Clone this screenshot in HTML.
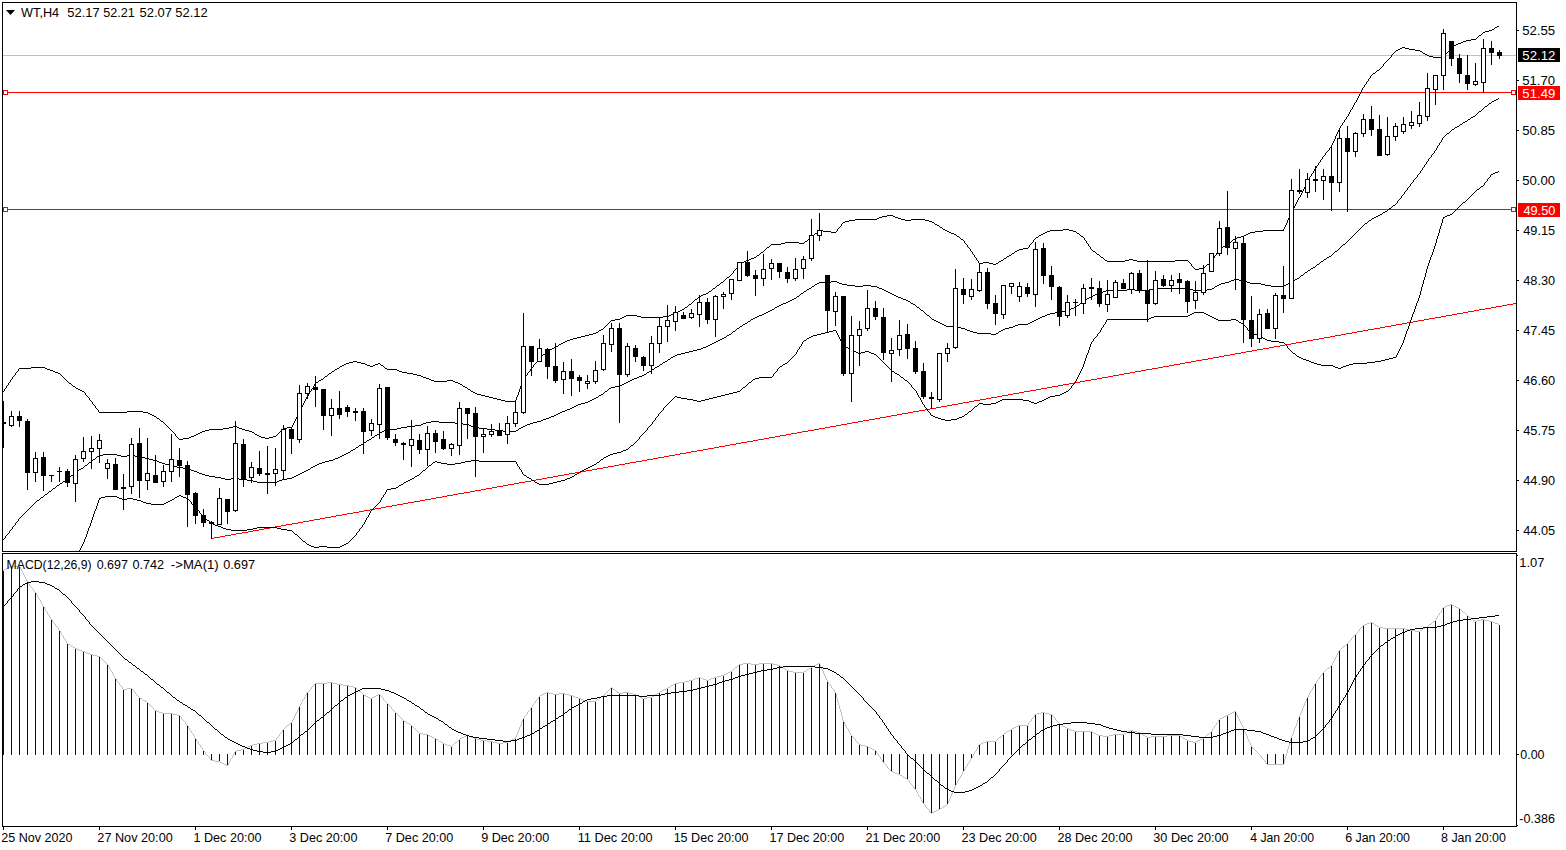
<!DOCTYPE html><html><head><meta charset="utf-8"><title>WT,H4</title><style>
html,body{margin:0;padding:0;background:#fff;width:1566px;height:850px;overflow:hidden}
svg{display:block}
text{font-family:"Liberation Sans",Arial,sans-serif;font-size:13px;fill:#000}
</style></head><body>
<svg width="1566" height="850" viewBox="0 0 1566 850" shape-rendering="crispEdges">
<defs><clipPath id="cm"><rect x="3" y="3" width="1513" height="548"/></clipPath>
<clipPath id="cs"><rect x="3" y="554" width="1513" height="272"/></clipPath></defs>
<rect x="0" y="0" width="1566" height="850" fill="#fff"/>
<rect x="3" y="55" width="1513" height="1" fill="#c0c0c0"/>
<rect x="3" y="92" width="1513" height="1" fill="#f00"/>
<rect x="3" y="209" width="1513" height="1" fill="#f00"/>
<path d="M1513 303h3v1h-3zM1507 304h6v1h-6zM1502 305h5v1h-5zM1496 306h6v1h-6zM1491 307h5v1h-5zM1485 308h6v1h-6zM1479 309h6v1h-6zM1474 310h5v1h-5zM1468 311h6v1h-6zM1463 312h5v1h-5zM1457 313h6v1h-6zM1452 314h5v1h-5zM1446 315h6v1h-6zM1441 316h5v1h-5zM1435 317h6v1h-6zM1429 318h6v1h-6zM1424 319h5v1h-5zM1418 320h6v1h-6zM1413 321h5v1h-5zM1407 322h6v1h-6zM1402 323h5v1h-5zM1396 324h6v1h-6zM1391 325h5v1h-5zM1385 326h6v1h-6zM1380 327h5v1h-5zM1374 328h6v1h-6zM1368 329h6v1h-6zM1363 330h5v1h-5zM1357 331h6v1h-6zM1352 332h5v1h-5zM1346 333h6v1h-6zM1341 334h5v1h-5zM1335 335h6v1h-6zM1330 336h5v1h-5zM1324 337h6v1h-6zM1319 338h5v1h-5zM1313 339h6v1h-6zM1307 340h6v1h-6zM1302 341h5v1h-5zM1296 342h6v1h-6zM1291 343h5v1h-5zM1285 344h6v1h-6zM1280 345h5v1h-5zM1274 346h6v1h-6zM1269 347h5v1h-5zM1263 348h6v1h-6zM1257 349h6v1h-6zM1252 350h5v1h-5zM1246 351h6v1h-6zM1241 352h5v1h-5zM1235 353h6v1h-6zM1230 354h5v1h-5zM1224 355h6v1h-6zM1219 356h5v1h-5zM1213 357h6v1h-6zM1208 358h5v1h-5zM1202 359h6v1h-6zM1196 360h6v1h-6zM1191 361h5v1h-5zM1185 362h6v1h-6zM1180 363h5v1h-5zM1174 364h6v1h-6zM1169 365h5v1h-5zM1163 366h6v1h-6zM1158 367h5v1h-5zM1152 368h6v1h-6zM1146 369h6v1h-6zM1141 370h5v1h-5zM1135 371h6v1h-6zM1130 372h5v1h-5zM1124 373h6v1h-6zM1119 374h5v1h-5zM1113 375h6v1h-6zM1108 376h5v1h-5zM1102 377h6v1h-6zM1097 378h5v1h-5zM1091 379h6v1h-6zM1085 380h6v1h-6zM1080 381h5v1h-5zM1074 382h6v1h-6zM1069 383h5v1h-5zM1063 384h6v1h-6zM1058 385h5v1h-5zM1052 386h6v1h-6zM1047 387h5v1h-5zM1041 388h6v1h-6zM1036 389h5v1h-5zM1030 390h6v1h-6zM1024 391h6v1h-6zM1019 392h5v1h-5zM1013 393h6v1h-6zM1008 394h5v1h-5zM1002 395h6v1h-6zM997 396h5v1h-5zM991 397h6v1h-6zM986 398h5v1h-5zM980 399h6v1h-6zM974 400h6v1h-6zM969 401h5v1h-5zM963 402h6v1h-6zM958 403h5v1h-5zM952 404h6v1h-6zM947 405h5v1h-5zM941 406h6v1h-6zM936 407h5v1h-5zM930 408h6v1h-6zM925 409h5v1h-5zM919 410h6v1h-6zM913 411h6v1h-6zM908 412h5v1h-5zM902 413h6v1h-6zM897 414h5v1h-5zM891 415h6v1h-6zM886 416h5v1h-5zM880 417h6v1h-6zM875 418h5v1h-5zM869 419h6v1h-6zM863 420h6v1h-6zM858 421h5v1h-5zM852 422h6v1h-6zM847 423h5v1h-5zM841 424h6v1h-6zM836 425h5v1h-5zM830 426h6v1h-6zM825 427h5v1h-5zM819 428h6v1h-6zM814 429h5v1h-5zM808 430h6v1h-6zM802 431h6v1h-6zM797 432h5v1h-5zM791 433h6v1h-6zM786 434h5v1h-5zM780 435h6v1h-6zM775 436h5v1h-5zM769 437h6v1h-6zM764 438h5v1h-5zM758 439h6v1h-6zM753 440h5v1h-5zM747 441h6v1h-6zM741 442h6v1h-6zM736 443h5v1h-5zM730 444h6v1h-6zM725 445h5v1h-5zM719 446h6v1h-6zM714 447h5v1h-5zM708 448h6v1h-6zM703 449h5v1h-5zM697 450h6v1h-6zM691 451h6v1h-6zM686 452h5v1h-5zM680 453h6v1h-6zM675 454h5v1h-5zM669 455h6v1h-6zM664 456h5v1h-5zM658 457h6v1h-6zM653 458h5v1h-5zM647 459h6v1h-6zM642 460h5v1h-5zM636 461h6v1h-6zM630 462h6v1h-6zM625 463h5v1h-5zM619 464h6v1h-6zM614 465h5v1h-5zM608 466h6v1h-6zM603 467h5v1h-5zM597 468h6v1h-6zM592 469h5v1h-5zM586 470h6v1h-6zM581 471h5v1h-5zM575 472h6v1h-6zM569 473h6v1h-6zM564 474h5v1h-5zM558 475h6v1h-6zM553 476h5v1h-5zM547 477h6v1h-6zM542 478h5v1h-5zM536 479h6v1h-6zM531 480h5v1h-5zM525 481h6v1h-6zM519 482h6v1h-6zM514 483h5v1h-5zM508 484h6v1h-6zM503 485h5v1h-5zM497 486h6v1h-6zM492 487h5v1h-5zM486 488h6v1h-6zM481 489h5v1h-5zM475 490h6v1h-6zM470 491h5v1h-5zM464 492h6v1h-6zM458 493h6v1h-6zM453 494h5v1h-5zM447 495h6v1h-6zM442 496h5v1h-5zM436 497h6v1h-6zM431 498h5v1h-5zM425 499h6v1h-6zM420 500h5v1h-5zM414 501h6v1h-6zM408 502h6v1h-6zM403 503h5v1h-5zM397 504h6v1h-6zM392 505h5v1h-5zM386 506h6v1h-6zM381 507h5v1h-5zM375 508h6v1h-6zM370 509h5v1h-5zM364 510h6v1h-6zM359 511h5v1h-5zM353 512h6v1h-6zM347 513h6v1h-6zM342 514h5v1h-5zM336 515h6v1h-6zM331 516h5v1h-5zM325 517h6v1h-6zM320 518h5v1h-5zM314 519h6v1h-6zM309 520h5v1h-5zM303 521h6v1h-6zM298 522h5v1h-5zM292 523h6v1h-6zM286 524h6v1h-6zM281 525h5v1h-5zM275 526h6v1h-6zM270 527h5v1h-5zM264 528h6v1h-6zM259 529h5v1h-5zM253 530h6v1h-6zM248 531h5v1h-5zM242 532h6v1h-6zM236 533h6v1h-6zM231 534h5v1h-5zM225 535h6v1h-6zM220 536h5v1h-5zM214 537h6v1h-6zM211 538h3v1h-3z" fill="#f00"/>
<path d="M1497 26h2v1h-2zM1495 27h2v1h-2zM1494 28h1v1h-1zM1492 29h2v1h-2zM1489 30h3v1h-3zM1485 31h4v1h-4zM1483 32h2v1h-2zM1482 33h1v1h-1zM1481 34h1v1h-1zM1479 35h2v1h-2zM1478 36h1v1h-1zM1477 37h1v1h-1zM1476 38h1v1h-1zM1471 39h5v1h-5zM1466 40h5v1h-5zM1463 41h3v1h-3zM1461 42h2v1h-2zM1458 43h3v1h-3zM1456 44h2v1h-2zM1454 45h2v1h-2zM1452 46h2v1h-2zM1402 47h3v1h-3zM1451 47h1v1h-1zM1400 48h2v1h-2zM1405 48h4v1h-4zM1450 48h1v1h-1zM1398 49h2v1h-2zM1409 49h6v1h-6zM1449 49h1v1h-1zM1396 50h2v1h-2zM1415 50h5v1h-5zM1449 50h1v1h-1zM1395 51h1v1h-1zM1420 51h2v1h-2zM1448 51h1v1h-1zM1394 52h1v1h-1zM1422 52h1v1h-1zM1447 52h1v1h-1zM1393 53h1v1h-1zM1423 53h2v1h-2zM1446 53h1v1h-1zM1392 54h1v1h-1zM1425 54h2v1h-2zM1445 54h1v1h-1zM1391 55h1v1h-1zM1427 55h2v1h-2zM1445 55h1v1h-1zM1391 56h1v1h-1zM1429 56h4v1h-4zM1444 56h1v1h-1zM1390 57h1v1h-1zM1433 57h11v1h-11zM1389 58h1v1h-1zM1388 59h1v1h-1zM1387 60h1v1h-1zM1386 61h1v1h-1zM1385 62h1v1h-1zM1384 63h1v1h-1zM1383 64h1v1h-1zM1383 65h1v1h-1zM1382 66h1v1h-1zM1381 67h1v1h-1zM1380 68h1v1h-1zM1379 69h1v1h-1zM1377 70h2v1h-2zM1376 71h1v1h-1zM1375 72h1v1h-1zM1373 73h2v1h-2zM1372 74h1v1h-1zM1371 75h1v1h-1zM1370 76h1v1h-1zM1370 77h1v1h-1zM1369 78h1v1h-1zM1368 79h1v1h-1zM1368 80h1v1h-1zM1367 81h1v1h-1zM1366 82h1v1h-1zM1366 83h1v1h-1zM1365 84h1v1h-1zM1364 85h1v1h-1zM1364 86h1v1h-1zM1363 87h1v1h-1zM1362 88h1v1h-1zM1362 89h1v1h-1zM1361 90h1v1h-1zM1361 91h1v1h-1zM1360 92h1v1h-1zM1360 93h1v1h-1zM1359 94h1v1h-1zM1359 95h1v1h-1zM1358 96h1v1h-1zM1358 97h1v1h-1zM1357 98h1v1h-1zM1357 99h1v1h-1zM1356 100h1v1h-1zM1356 101h1v1h-1zM1355 102h1v1h-1zM1354 103h1v1h-1zM1354 104h1v1h-1zM1353 105h1v1h-1zM1353 106h1v1h-1zM1352 107h1v1h-1zM1352 108h1v1h-1zM1351 109h1v1h-1zM1350 110h1v1h-1zM1350 111h1v1h-1zM1349 112h1v1h-1zM1349 113h1v1h-1zM1348 114h1v1h-1zM1348 115h1v1h-1zM1347 116h1v1h-1zM1346 117h1v1h-1zM1346 118h1v1h-1zM1345 119h1v1h-1zM1344 120h1v1h-1zM1344 121h1v1h-1zM1343 122h1v1h-1zM1342 123h1v1h-1zM1342 124h1v1h-1zM1341 125h1v1h-1zM1340 126h1v1h-1zM1340 127h1v1h-1zM1339 128h1v1h-1zM1339 129h1v1h-1zM1338 130h1v1h-1zM1338 131h1v1h-1zM1337 132h1v1h-1zM1337 133h1v1h-1zM1336 134h1v1h-1zM1336 135h1v1h-1zM1335 136h1v1h-1zM1335 137h1v1h-1zM1335 138h1v1h-1zM1334 139h1v1h-1zM1334 140h1v1h-1zM1333 141h1v1h-1zM1333 142h1v1h-1zM1332 143h1v1h-1zM1332 144h1v1h-1zM1331 145h1v1h-1zM1331 146h1v1h-1zM1330 147h1v1h-1zM1329 148h1v1h-1zM1329 149h1v1h-1zM1328 150h1v1h-1zM1327 151h1v1h-1zM1326 152h1v1h-1zM1325 153h1v1h-1zM1325 154h1v1h-1zM1324 155h1v1h-1zM1323 156h1v1h-1zM1322 157h1v1h-1zM1322 158h1v1h-1zM1321 159h1v1h-1zM1320 160h1v1h-1zM1320 161h1v1h-1zM1319 162h1v1h-1zM1318 163h1v1h-1zM1318 164h1v1h-1zM1317 165h1v1h-1zM1316 166h1v1h-1zM1316 167h1v1h-1zM1315 168h1v1h-1zM1314 169h1v1h-1zM1314 170h1v1h-1zM1313 171h1v1h-1zM1313 172h1v1h-1zM1312 173h1v1h-1zM1311 174h1v1h-1zM1311 175h1v1h-1zM1310 176h1v1h-1zM1309 177h1v1h-1zM1309 178h1v1h-1zM1308 179h1v1h-1zM1308 180h1v1h-1zM1307 181h1v1h-1zM1307 182h1v1h-1zM1306 183h1v1h-1zM1306 184h1v1h-1zM1305 185h1v1h-1zM1305 186h1v1h-1zM1304 187h1v1h-1zM1304 188h1v1h-1zM1303 189h1v1h-1zM1303 190h1v1h-1zM1302 191h1v1h-1zM1302 192h1v1h-1zM1301 193h1v1h-1zM1301 194h1v1h-1zM1300 195h1v1h-1zM1300 196h1v1h-1zM1299 197h1v1h-1zM1298 198h1v1h-1zM1298 199h1v1h-1zM1297 200h1v1h-1zM1297 201h1v1h-1zM1296 202h1v1h-1zM1296 203h1v1h-1zM1295 204h1v1h-1zM1295 205h1v1h-1zM1294 206h1v1h-1zM1294 207h1v1h-1zM1293 208h1v1h-1zM1293 209h1v1h-1zM1292 210h1v1h-1zM1292 211h1v1h-1zM1291 212h1v1h-1zM1291 213h1v1h-1zM1290 214h1v1h-1zM887 215h6v1h-6zM1290 215h1v1h-1zM882 216h5v1h-5zM893 216h2v1h-2zM1289 216h1v1h-1zM879 217h3v1h-3zM895 217h3v1h-3zM1289 217h1v1h-1zM877 218h2v1h-2zM898 218h3v1h-3zM1288 218h1v1h-1zM855 219h22v1h-22zM901 219h4v1h-4zM911 219h14v1h-14zM1288 219h1v1h-1zM849 220h6v1h-6zM905 220h6v1h-6zM925 220h4v1h-4zM1287 220h1v1h-1zM845 221h4v1h-4zM929 221h3v1h-3zM1287 221h1v1h-1zM843 222h2v1h-2zM932 222h2v1h-2zM1287 222h1v1h-1zM842 223h1v1h-1zM934 223h1v1h-1zM1286 223h1v1h-1zM841 224h1v1h-1zM935 224h2v1h-2zM1286 224h1v1h-1zM841 225h1v1h-1zM937 225h2v1h-2zM1285 225h1v1h-1zM840 226h1v1h-1zM939 226h1v1h-1zM1285 226h1v1h-1zM839 227h1v1h-1zM940 227h2v1h-2zM1284 227h1v1h-1zM838 228h1v1h-1zM942 228h1v1h-1zM1284 228h1v1h-1zM837 229h1v1h-1zM943 229h2v1h-2zM1063 229h6v1h-6zM1283 229h1v1h-1zM819 230h4v1h-4zM837 230h1v1h-1zM945 230h2v1h-2zM1050 230h13v1h-13zM1069 230h4v1h-4zM1263 230h21v1h-21zM818 231h1v1h-1zM823 231h8v1h-8zM836 231h1v1h-1zM947 231h2v1h-2zM1047 231h3v1h-3zM1073 231h3v1h-3zM1255 231h8v1h-8zM817 232h1v1h-1zM831 232h5v1h-5zM949 232h2v1h-2zM1045 232h2v1h-2zM1076 232h1v1h-1zM1250 232h5v1h-5zM815 233h2v1h-2zM951 233h3v1h-3zM1043 233h2v1h-2zM1077 233h2v1h-2zM1248 233h2v1h-2zM814 234h1v1h-1zM954 234h2v1h-2zM1041 234h2v1h-2zM1079 234h1v1h-1zM1246 234h2v1h-2zM813 235h1v1h-1zM956 235h1v1h-1zM1039 235h2v1h-2zM1080 235h1v1h-1zM1244 235h2v1h-2zM812 236h1v1h-1zM957 236h2v1h-2zM1038 236h1v1h-1zM1081 236h2v1h-2zM1241 236h3v1h-3zM811 237h1v1h-1zM959 237h1v1h-1zM1036 237h2v1h-2zM1083 237h1v1h-1zM1237 237h4v1h-4zM809 238h2v1h-2zM960 238h1v1h-1zM1035 238h1v1h-1zM1084 238h1v1h-1zM1235 238h2v1h-2zM808 239h1v1h-1zM961 239h2v1h-2zM1034 239h1v1h-1zM1084 239h1v1h-1zM1233 239h2v1h-2zM807 240h1v1h-1zM963 240h1v1h-1zM1033 240h1v1h-1zM1085 240h1v1h-1zM1232 240h1v1h-1zM805 241h2v1h-2zM964 241h1v1h-1zM1033 241h1v1h-1zM1086 241h1v1h-1zM1231 241h1v1h-1zM785 242h14v1h-14zM804 242h1v1h-1zM964 242h1v1h-1zM1032 242h1v1h-1zM1086 242h1v1h-1zM1229 242h2v1h-2zM781 243h4v1h-4zM799 243h5v1h-5zM965 243h1v1h-1zM1031 243h1v1h-1zM1087 243h1v1h-1zM1228 243h1v1h-1zM771 244h10v1h-10zM966 244h1v1h-1zM1030 244h1v1h-1zM1088 244h1v1h-1zM1227 244h1v1h-1zM770 245h1v1h-1zM967 245h1v1h-1zM1029 245h1v1h-1zM1088 245h1v1h-1zM1225 245h2v1h-2zM769 246h1v1h-1zM967 246h1v1h-1zM1029 246h1v1h-1zM1089 246h1v1h-1zM1223 246h2v1h-2zM767 247h2v1h-2zM968 247h1v1h-1zM1028 247h1v1h-1zM1090 247h1v1h-1zM1222 247h1v1h-1zM766 248h1v1h-1zM969 248h1v1h-1zM1023 248h5v1h-5zM1090 248h1v1h-1zM1220 248h2v1h-2zM765 249h1v1h-1zM970 249h1v1h-1zM1019 249h4v1h-4zM1091 249h1v1h-1zM1219 249h1v1h-1zM764 250h1v1h-1zM970 250h1v1h-1zM1017 250h2v1h-2zM1092 250h1v1h-1zM1218 250h1v1h-1zM763 251h1v1h-1zM971 251h1v1h-1zM1015 251h2v1h-2zM1093 251h2v1h-2zM1218 251h1v1h-1zM761 252h2v1h-2zM972 252h1v1h-1zM1014 252h1v1h-1zM1095 252h1v1h-1zM1217 252h1v1h-1zM760 253h1v1h-1zM972 253h1v1h-1zM1012 253h2v1h-2zM1096 253h1v1h-1zM1216 253h1v1h-1zM759 254h1v1h-1zM973 254h1v1h-1zM1011 254h1v1h-1zM1097 254h2v1h-2zM1216 254h1v1h-1zM757 255h2v1h-2zM974 255h1v1h-1zM1009 255h2v1h-2zM1099 255h1v1h-1zM1215 255h1v1h-1zM756 256h1v1h-1zM974 256h1v1h-1zM1007 256h2v1h-2zM1100 256h1v1h-1zM1214 256h1v1h-1zM754 257h2v1h-2zM975 257h1v1h-1zM1006 257h1v1h-1zM1101 257h2v1h-2zM1214 257h1v1h-1zM751 258h3v1h-3zM976 258h1v1h-1zM1004 258h2v1h-2zM1103 258h1v1h-1zM1213 258h1v1h-1zM749 259h2v1h-2zM976 259h1v1h-1zM1003 259h1v1h-1zM1104 259h1v1h-1zM1129 259h4v1h-4zM1212 259h1v1h-1zM746 260h3v1h-3zM977 260h1v1h-1zM1001 260h2v1h-2zM1105 260h2v1h-2zM1125 260h4v1h-4zM1133 260h4v1h-4zM1175 260h13v1h-13zM1212 260h1v1h-1zM744 261h2v1h-2zM978 261h1v1h-1zM999 261h2v1h-2zM1107 261h18v1h-18zM1137 261h38v1h-38zM1188 261h1v1h-1zM1211 261h1v1h-1zM742 262h2v1h-2zM978 262h1v1h-1zM983 262h6v1h-6zM998 262h1v1h-1zM1189 262h1v1h-1zM1210 262h1v1h-1zM740 263h2v1h-2zM979 263h4v1h-4zM989 263h4v1h-4zM996 263h2v1h-2zM1190 263h1v1h-1zM1209 263h1v1h-1zM739 264h1v1h-1zM993 264h3v1h-3zM1191 264h1v1h-1zM1207 264h2v1h-2zM738 265h1v1h-1zM1191 265h1v1h-1zM1206 265h1v1h-1zM737 266h1v1h-1zM1192 266h1v1h-1zM1205 266h1v1h-1zM737 267h1v1h-1zM1193 267h1v1h-1zM1204 267h1v1h-1zM736 268h1v1h-1zM1194 268h1v1h-1zM1199 268h5v1h-5zM735 269h1v1h-1zM1195 269h4v1h-4zM734 270h1v1h-1zM733 271h1v1h-1zM733 272h1v1h-1zM732 273h1v1h-1zM731 274h1v1h-1zM730 275h1v1h-1zM729 276h1v1h-1zM727 277h2v1h-2zM726 278h1v1h-1zM725 279h1v1h-1zM724 280h1v1h-1zM723 281h1v1h-1zM721 282h2v1h-2zM720 283h1v1h-1zM719 284h1v1h-1zM717 285h2v1h-2zM716 286h1v1h-1zM715 287h1v1h-1zM713 288h2v1h-2zM712 289h1v1h-1zM711 290h1v1h-1zM709 291h2v1h-2zM708 292h1v1h-1zM706 293h2v1h-2zM703 294h3v1h-3zM701 295h2v1h-2zM699 296h2v1h-2zM698 297h1v1h-1zM697 298h1v1h-1zM695 299h2v1h-2zM694 300h1v1h-1zM693 301h1v1h-1zM692 302h1v1h-1zM691 303h1v1h-1zM689 304h2v1h-2zM688 305h1v1h-1zM687 306h1v1h-1zM685 307h2v1h-2zM684 308h1v1h-1zM682 309h2v1h-2zM680 310h2v1h-2zM678 311h2v1h-2zM676 312h2v1h-2zM674 313h2v1h-2zM671 314h3v1h-3zM626 315h11v1h-11zM669 315h2v1h-2zM624 316h2v1h-2zM637 316h4v1h-4zM663 316h6v1h-6zM622 317h2v1h-2zM641 317h22v1h-22zM620 318h2v1h-2zM615 319h5v1h-5zM611 320h4v1h-4zM610 321h1v1h-1zM609 322h1v1h-1zM608 323h1v1h-1zM607 324h1v1h-1zM606 325h1v1h-1zM605 326h1v1h-1zM604 327h1v1h-1zM603 328h1v1h-1zM601 329h2v1h-2zM599 330h2v1h-2zM598 331h1v1h-1zM596 332h2v1h-2zM593 333h3v1h-3zM589 334h4v1h-4zM585 335h4v1h-4zM581 336h4v1h-4zM577 337h4v1h-4zM573 338h4v1h-4zM570 339h3v1h-3zM567 340h3v1h-3zM565 341h2v1h-2zM563 342h2v1h-2zM561 343h2v1h-2zM559 344h2v1h-2zM558 345h1v1h-1zM556 346h2v1h-2zM554 347h2v1h-2zM552 348h2v1h-2zM550 349h2v1h-2zM548 350h2v1h-2zM547 351h1v1h-1zM546 352h1v1h-1zM545 353h1v1h-1zM543 354h2v1h-2zM542 355h1v1h-1zM541 356h1v1h-1zM540 357h1v1h-1zM539 358h1v1h-1zM538 359h1v1h-1zM537 360h1v1h-1zM353 361h4v1h-4zM537 361h1v1h-1zM349 362h4v1h-4zM357 362h4v1h-4zM536 362h1v1h-1zM346 363h3v1h-3zM361 363h4v1h-4zM378 363h2v1h-2zM535 363h1v1h-1zM344 364h2v1h-2zM365 364h2v1h-2zM375 364h3v1h-3zM380 364h1v1h-1zM534 364h1v1h-1zM342 365h2v1h-2zM367 365h3v1h-3zM373 365h2v1h-2zM381 365h2v1h-2zM533 365h1v1h-1zM340 366h2v1h-2zM370 366h3v1h-3zM383 366h1v1h-1zM533 366h1v1h-1zM31 367h14v1h-14zM339 367h1v1h-1zM384 367h1v1h-1zM532 367h1v1h-1zM19 368h12v1h-12zM45 368h2v1h-2zM337 368h2v1h-2zM385 368h2v1h-2zM531 368h1v1h-1zM18 369h1v1h-1zM47 369h3v1h-3zM335 369h2v1h-2zM387 369h10v1h-10zM530 369h1v1h-1zM18 370h1v1h-1zM50 370h3v1h-3zM334 370h1v1h-1zM397 370h2v1h-2zM530 370h1v1h-1zM17 371h1v1h-1zM53 371h2v1h-2zM332 371h2v1h-2zM399 371h3v1h-3zM529 371h1v1h-1zM16 372h1v1h-1zM55 372h3v1h-3zM331 372h1v1h-1zM402 372h5v1h-5zM528 372h1v1h-1zM15 373h1v1h-1zM58 373h2v1h-2zM329 373h2v1h-2zM407 373h6v1h-6zM527 373h1v1h-1zM15 374h1v1h-1zM60 374h1v1h-1zM328 374h1v1h-1zM413 374h4v1h-4zM527 374h1v1h-1zM14 375h1v1h-1zM61 375h1v1h-1zM327 375h1v1h-1zM417 375h4v1h-4zM526 375h1v1h-1zM13 376h1v1h-1zM62 376h1v1h-1zM325 376h2v1h-2zM421 376h2v1h-2zM525 376h1v1h-1zM12 377h1v1h-1zM63 377h1v1h-1zM324 377h1v1h-1zM423 377h3v1h-3zM524 377h1v1h-1zM12 378h1v1h-1zM64 378h1v1h-1zM323 378h1v1h-1zM426 378h3v1h-3zM524 378h1v1h-1zM11 379h1v1h-1zM65 379h1v1h-1zM321 379h2v1h-2zM429 379h2v1h-2zM523 379h1v1h-1zM10 380h1v1h-1zM66 380h1v1h-1zM319 380h2v1h-2zM431 380h3v1h-3zM447 380h6v1h-6zM523 380h1v1h-1zM10 381h1v1h-1zM67 381h1v1h-1zM318 381h1v1h-1zM434 381h13v1h-13zM453 381h2v1h-2zM522 381h1v1h-1zM9 382h1v1h-1zM68 382h1v1h-1zM316 382h2v1h-2zM455 382h3v1h-3zM522 382h1v1h-1zM8 383h1v1h-1zM69 383h2v1h-2zM315 383h1v1h-1zM458 383h2v1h-2zM522 383h1v1h-1zM8 384h1v1h-1zM71 384h1v1h-1zM314 384h1v1h-1zM460 384h2v1h-2zM521 384h1v1h-1zM7 385h1v1h-1zM72 385h1v1h-1zM314 385h1v1h-1zM462 385h1v1h-1zM521 385h1v1h-1zM6 386h1v1h-1zM73 386h2v1h-2zM313 386h1v1h-1zM463 386h2v1h-2zM520 386h1v1h-1zM6 387h1v1h-1zM75 387h1v1h-1zM313 387h1v1h-1zM465 387h2v1h-2zM520 387h1v1h-1zM5 388h1v1h-1zM76 388h2v1h-2zM312 388h1v1h-1zM467 388h1v1h-1zM520 388h1v1h-1zM4 389h1v1h-1zM78 389h2v1h-2zM311 389h1v1h-1zM468 389h2v1h-2zM519 389h1v1h-1zM4 390h1v1h-1zM80 390h2v1h-2zM311 390h1v1h-1zM470 390h1v1h-1zM519 390h1v1h-1zM3 391h1v1h-1zM82 391h2v1h-2zM310 391h1v1h-1zM471 391h2v1h-2zM519 391h1v1h-1zM84 392h1v1h-1zM309 392h1v1h-1zM473 392h2v1h-2zM518 392h1v1h-1zM85 393h1v1h-1zM309 393h1v1h-1zM475 393h2v1h-2zM518 393h1v1h-1zM85 394h1v1h-1zM308 394h1v1h-1zM477 394h4v1h-4zM518 394h1v1h-1zM86 395h1v1h-1zM308 395h1v1h-1zM481 395h4v1h-4zM517 395h1v1h-1zM87 396h1v1h-1zM307 396h1v1h-1zM485 396h4v1h-4zM517 396h1v1h-1zM88 397h1v1h-1zM306 397h1v1h-1zM489 397h4v1h-4zM516 397h1v1h-1zM89 398h1v1h-1zM306 398h1v1h-1zM493 398h4v1h-4zM516 398h1v1h-1zM89 399h1v1h-1zM305 399h1v1h-1zM497 399h4v1h-4zM516 399h1v1h-1zM90 400h1v1h-1zM305 400h1v1h-1zM501 400h4v1h-4zM515 400h1v1h-1zM91 401h1v1h-1zM304 401h1v1h-1zM505 401h11v1h-11zM92 402h1v1h-1zM304 402h1v1h-1zM92 403h1v1h-1zM303 403h1v1h-1zM93 404h1v1h-1zM303 404h1v1h-1zM94 405h1v1h-1zM302 405h1v1h-1zM95 406h1v1h-1zM302 406h1v1h-1zM95 407h1v1h-1zM301 407h1v1h-1zM96 408h1v1h-1zM301 408h1v1h-1zM97 409h1v1h-1zM300 409h1v1h-1zM98 410h1v1h-1zM300 410h1v1h-1zM98 411h1v1h-1zM127 411h16v1h-16zM299 411h1v1h-1zM99 412h28v1h-28zM143 412h5v1h-5zM299 412h1v1h-1zM148 413h2v1h-2zM298 413h1v1h-1zM150 414h2v1h-2zM298 414h1v1h-1zM152 415h2v1h-2zM297 415h1v1h-1zM154 416h2v1h-2zM297 416h1v1h-1zM156 417h1v1h-1zM296 417h1v1h-1zM157 418h2v1h-2zM296 418h1v1h-1zM159 419h1v1h-1zM295 419h1v1h-1zM160 420h1v1h-1zM295 420h1v1h-1zM161 421h2v1h-2zM294 421h1v1h-1zM163 422h1v1h-1zM294 422h1v1h-1zM164 423h1v1h-1zM293 423h1v1h-1zM165 424h1v1h-1zM293 424h1v1h-1zM166 425h1v1h-1zM292 425h1v1h-1zM167 426h1v1h-1zM233 426h4v1h-4zM292 426h1v1h-1zM168 427h1v1h-1zM229 427h4v1h-4zM237 427h2v1h-2zM287 427h5v1h-5zM169 428h1v1h-1zM223 428h6v1h-6zM239 428h3v1h-3zM283 428h4v1h-4zM170 429h1v1h-1zM209 429h14v1h-14zM242 429h3v1h-3zM282 429h1v1h-1zM171 430h1v1h-1zM205 430h4v1h-4zM245 430h4v1h-4zM281 430h1v1h-1zM172 431h1v1h-1zM202 431h3v1h-3zM249 431h3v1h-3zM280 431h1v1h-1zM173 432h1v1h-1zM200 432h2v1h-2zM252 432h2v1h-2zM279 432h1v1h-1zM174 433h1v1h-1zM198 433h2v1h-2zM254 433h1v1h-1zM278 433h1v1h-1zM175 434h1v1h-1zM196 434h2v1h-2zM255 434h2v1h-2zM277 434h1v1h-1zM175 435h1v1h-1zM194 435h2v1h-2zM257 435h2v1h-2zM276 435h1v1h-1zM176 436h1v1h-1zM191 436h3v1h-3zM259 436h2v1h-2zM273 436h3v1h-3zM177 437h1v1h-1zM189 437h2v1h-2zM261 437h4v1h-4zM269 437h4v1h-4zM178 438h1v1h-1zM183 438h6v1h-6zM265 438h4v1h-4zM179 439h4v1h-4z" fill="#000"/>
<path d="M1498 98h1v1h-1zM1496 99h2v1h-2zM1494 100h2v1h-2zM1492 101h2v1h-2zM1491 102h1v1h-1zM1489 103h2v1h-2zM1488 104h1v1h-1zM1487 105h1v1h-1zM1485 106h2v1h-2zM1484 107h1v1h-1zM1483 108h1v1h-1zM1482 109h1v1h-1zM1481 110h1v1h-1zM1479 111h2v1h-2zM1478 112h1v1h-1zM1477 113h1v1h-1zM1476 114h1v1h-1zM1475 115h1v1h-1zM1473 116h2v1h-2zM1471 117h2v1h-2zM1470 118h1v1h-1zM1468 119h2v1h-2zM1467 120h1v1h-1zM1465 121h2v1h-2zM1463 122h2v1h-2zM1462 123h1v1h-1zM1460 124h2v1h-2zM1459 125h1v1h-1zM1457 126h2v1h-2zM1455 127h2v1h-2zM1454 128h1v1h-1zM1452 129h2v1h-2zM1451 130h1v1h-1zM1450 131h1v1h-1zM1449 132h1v1h-1zM1447 133h2v1h-2zM1446 134h1v1h-1zM1445 135h1v1h-1zM1444 136h1v1h-1zM1443 137h1v1h-1zM1442 138h1v1h-1zM1442 139h1v1h-1zM1441 140h1v1h-1zM1441 141h1v1h-1zM1440 142h1v1h-1zM1439 143h1v1h-1zM1439 144h1v1h-1zM1438 145h1v1h-1zM1437 146h1v1h-1zM1437 147h1v1h-1zM1436 148h1v1h-1zM1436 149h1v1h-1zM1435 150h1v1h-1zM1434 151h1v1h-1zM1434 152h1v1h-1zM1433 153h1v1h-1zM1432 154h1v1h-1zM1431 155h1v1h-1zM1431 156h1v1h-1zM1430 157h1v1h-1zM1429 158h1v1h-1zM1428 159h1v1h-1zM1428 160h1v1h-1zM1427 161h1v1h-1zM1426 162h1v1h-1zM1426 163h1v1h-1zM1425 164h1v1h-1zM1424 165h1v1h-1zM1424 166h1v1h-1zM1423 167h1v1h-1zM1422 168h1v1h-1zM1422 169h1v1h-1zM1421 170h1v1h-1zM1420 171h1v1h-1zM1420 172h1v1h-1zM1419 173h1v1h-1zM1418 174h1v1h-1zM1417 175h1v1h-1zM1417 176h1v1h-1zM1416 177h1v1h-1zM1415 178h1v1h-1zM1414 179h1v1h-1zM1413 180h1v1h-1zM1413 181h1v1h-1zM1412 182h1v1h-1zM1411 183h1v1h-1zM1410 184h1v1h-1zM1410 185h1v1h-1zM1409 186h1v1h-1zM1408 187h1v1h-1zM1407 188h1v1h-1zM1407 189h1v1h-1zM1406 190h1v1h-1zM1405 191h1v1h-1zM1404 192h1v1h-1zM1404 193h1v1h-1zM1403 194h1v1h-1zM1402 195h1v1h-1zM1401 196h1v1h-1zM1401 197h1v1h-1zM1400 198h1v1h-1zM1399 199h1v1h-1zM1398 200h1v1h-1zM1397 201h1v1h-1zM1397 202h1v1h-1zM1396 203h1v1h-1zM1395 204h1v1h-1zM1393 205h2v1h-2zM1392 206h1v1h-1zM1391 207h1v1h-1zM1389 208h2v1h-2zM1388 209h1v1h-1zM1387 210h1v1h-1zM1385 211h2v1h-2zM1383 212h2v1h-2zM1382 213h1v1h-1zM1380 214h2v1h-2zM1378 215h2v1h-2zM1376 216h2v1h-2zM1374 217h2v1h-2zM1372 218h2v1h-2zM1371 219h1v1h-1zM1369 220h2v1h-2zM1368 221h1v1h-1zM1367 222h1v1h-1zM1365 223h2v1h-2zM1364 224h1v1h-1zM1363 225h1v1h-1zM1362 226h1v1h-1zM1361 227h1v1h-1zM1360 228h1v1h-1zM1359 229h1v1h-1zM1358 230h1v1h-1zM1357 231h1v1h-1zM1356 232h1v1h-1zM1355 233h1v1h-1zM1354 234h1v1h-1zM1353 235h1v1h-1zM1352 236h1v1h-1zM1351 237h1v1h-1zM1350 238h1v1h-1zM1349 239h1v1h-1zM1348 240h1v1h-1zM1347 241h1v1h-1zM1346 242h1v1h-1zM1345 243h1v1h-1zM1343 244h2v1h-2zM1342 245h1v1h-1zM1341 246h1v1h-1zM1340 247h1v1h-1zM1339 248h1v1h-1zM1338 249h1v1h-1zM1337 250h1v1h-1zM1335 251h2v1h-2zM1334 252h1v1h-1zM1333 253h1v1h-1zM1332 254h1v1h-1zM1331 255h1v1h-1zM1329 256h2v1h-2zM1327 257h2v1h-2zM1326 258h1v1h-1zM1324 259h2v1h-2zM1323 260h1v1h-1zM1321 261h2v1h-2zM1320 262h1v1h-1zM1319 263h1v1h-1zM1317 264h2v1h-2zM1316 265h1v1h-1zM1315 266h1v1h-1zM1313 267h2v1h-2zM1311 268h2v1h-2zM1310 269h1v1h-1zM1308 270h2v1h-2zM1307 271h1v1h-1zM1305 272h2v1h-2zM1304 273h1v1h-1zM1303 274h1v1h-1zM1301 275h2v1h-2zM1300 276h1v1h-1zM1299 277h1v1h-1zM1297 278h2v1h-2zM1234 279h5v1h-5zM1295 279h2v1h-2zM1231 280h3v1h-3zM1239 280h6v1h-6zM1294 280h1v1h-1zM831 281h6v1h-6zM1229 281h2v1h-2zM1245 281h2v1h-2zM1292 281h2v1h-2zM819 282h12v1h-12zM837 282h2v1h-2zM1225 282h4v1h-4zM1247 282h3v1h-3zM1290 282h2v1h-2zM817 283h2v1h-2zM839 283h3v1h-3zM1221 283h4v1h-4zM1250 283h11v1h-11zM1288 283h2v1h-2zM815 284h2v1h-2zM842 284h5v1h-5zM1219 284h2v1h-2zM1261 284h4v1h-4zM1286 284h2v1h-2zM814 285h1v1h-1zM847 285h8v1h-8zM863 285h8v1h-8zM1217 285h2v1h-2zM1265 285h6v1h-6zM1284 285h2v1h-2zM812 286h2v1h-2zM855 286h8v1h-8zM871 286h6v1h-6zM1215 286h2v1h-2zM1271 286h13v1h-13zM811 287h1v1h-1zM877 287h2v1h-2zM1214 287h1v1h-1zM809 288h2v1h-2zM879 288h3v1h-3zM1153 288h36v1h-36zM1212 288h2v1h-2zM807 289h2v1h-2zM882 289h2v1h-2zM1127 289h8v1h-8zM1149 289h4v1h-4zM1189 289h4v1h-4zM1207 289h5v1h-5zM806 290h1v1h-1zM884 290h2v1h-2zM1106 290h21v1h-21zM1135 290h14v1h-14zM1193 290h14v1h-14zM804 291h2v1h-2zM886 291h2v1h-2zM1103 291h3v1h-3zM803 292h1v1h-1zM888 292h2v1h-2zM1101 292h2v1h-2zM801 293h2v1h-2zM890 293h2v1h-2zM1098 293h3v1h-3zM800 294h1v1h-1zM892 294h2v1h-2zM1095 294h3v1h-3zM799 295h1v1h-1zM894 295h2v1h-2zM1093 295h2v1h-2zM797 296h2v1h-2zM896 296h2v1h-2zM1091 296h2v1h-2zM796 297h1v1h-1zM898 297h3v1h-3zM1089 297h2v1h-2zM794 298h2v1h-2zM901 298h2v1h-2zM1087 298h2v1h-2zM792 299h2v1h-2zM903 299h3v1h-3zM1086 299h1v1h-1zM790 300h2v1h-2zM906 300h2v1h-2zM1084 300h2v1h-2zM788 301h2v1h-2zM908 301h2v1h-2zM1083 301h1v1h-1zM786 302h2v1h-2zM910 302h1v1h-1zM1081 302h2v1h-2zM783 303h3v1h-3zM911 303h2v1h-2zM1080 303h1v1h-1zM781 304h2v1h-2zM913 304h2v1h-2zM1079 304h1v1h-1zM779 305h2v1h-2zM915 305h1v1h-1zM1077 305h2v1h-2zM777 306h2v1h-2zM916 306h1v1h-1zM1076 306h1v1h-1zM775 307h2v1h-2zM917 307h2v1h-2zM1074 307h2v1h-2zM774 308h1v1h-1zM919 308h1v1h-1zM1071 308h3v1h-3zM772 309h2v1h-2zM920 309h1v1h-1zM1069 309h2v1h-2zM770 310h2v1h-2zM921 310h2v1h-2zM1065 310h4v1h-4zM768 311h2v1h-2zM923 311h1v1h-1zM1061 311h4v1h-4zM766 312h2v1h-2zM924 312h1v1h-1zM1055 312h6v1h-6zM764 313h2v1h-2zM925 313h1v1h-1zM1050 313h5v1h-5zM762 314h2v1h-2zM926 314h1v1h-1zM1047 314h3v1h-3zM759 315h3v1h-3zM927 315h2v1h-2zM1045 315h2v1h-2zM757 316h2v1h-2zM929 316h1v1h-1zM1042 316h3v1h-3zM755 317h2v1h-2zM930 317h1v1h-1zM1040 317h2v1h-2zM753 318h2v1h-2zM931 318h1v1h-1zM1038 318h2v1h-2zM751 319h2v1h-2zM932 319h2v1h-2zM1036 319h2v1h-2zM750 320h1v1h-1zM934 320h2v1h-2zM1034 320h2v1h-2zM748 321h2v1h-2zM936 321h2v1h-2zM1032 321h2v1h-2zM747 322h1v1h-1zM938 322h2v1h-2zM1030 322h2v1h-2zM745 323h2v1h-2zM940 323h2v1h-2zM1028 323h2v1h-2zM743 324h2v1h-2zM942 324h2v1h-2zM1018 324h10v1h-10zM742 325h1v1h-1zM944 325h2v1h-2zM1015 325h3v1h-3zM740 326h2v1h-2zM946 326h11v1h-11zM1013 326h2v1h-2zM739 327h1v1h-1zM957 327h4v1h-4zM1009 327h4v1h-4zM737 328h2v1h-2zM961 328h4v1h-4zM1005 328h4v1h-4zM736 329h1v1h-1zM965 329h2v1h-2zM1003 329h2v1h-2zM735 330h1v1h-1zM967 330h3v1h-3zM1001 330h2v1h-2zM733 331h2v1h-2zM970 331h3v1h-3zM999 331h2v1h-2zM732 332h1v1h-1zM973 332h4v1h-4zM998 332h1v1h-1zM731 333h1v1h-1zM977 333h14v1h-14zM996 333h2v1h-2zM729 334h2v1h-2zM991 334h5v1h-5zM727 335h2v1h-2zM726 336h1v1h-1zM724 337h2v1h-2zM722 338h2v1h-2zM720 339h2v1h-2zM718 340h2v1h-2zM716 341h2v1h-2zM714 342h2v1h-2zM712 343h2v1h-2zM710 344h2v1h-2zM708 345h2v1h-2zM706 346h2v1h-2zM703 347h3v1h-3zM701 348h2v1h-2zM697 349h4v1h-4zM693 350h4v1h-4zM689 351h4v1h-4zM685 352h4v1h-4zM681 353h4v1h-4zM677 354h4v1h-4zM675 355h2v1h-2zM673 356h2v1h-2zM671 357h2v1h-2zM670 358h1v1h-1zM668 359h2v1h-2zM667 360h1v1h-1zM665 361h2v1h-2zM663 362h2v1h-2zM662 363h1v1h-1zM660 364h2v1h-2zM659 365h1v1h-1zM657 366h2v1h-2zM655 367h2v1h-2zM654 368h1v1h-1zM652 369h2v1h-2zM651 370h1v1h-1zM649 371h2v1h-2zM647 372h2v1h-2zM646 373h1v1h-1zM644 374h2v1h-2zM642 375h2v1h-2zM639 376h3v1h-3zM637 377h2v1h-2zM634 378h3v1h-3zM632 379h2v1h-2zM630 380h2v1h-2zM628 381h2v1h-2zM626 382h2v1h-2zM624 383h2v1h-2zM622 384h2v1h-2zM620 385h2v1h-2zM615 386h5v1h-5zM611 387h4v1h-4zM609 388h2v1h-2zM608 389h1v1h-1zM607 390h1v1h-1zM605 391h2v1h-2zM604 392h1v1h-1zM603 393h1v1h-1zM601 394h2v1h-2zM599 395h2v1h-2zM598 396h1v1h-1zM596 397h2v1h-2zM594 398h2v1h-2zM592 399h2v1h-2zM590 400h2v1h-2zM588 401h2v1h-2zM585 402h3v1h-3zM581 403h4v1h-4zM578 404h3v1h-3zM576 405h2v1h-2zM574 406h2v1h-2zM572 407h2v1h-2zM570 408h2v1h-2zM567 409h3v1h-3zM565 410h2v1h-2zM562 411h3v1h-3zM560 412h2v1h-2zM558 413h2v1h-2zM556 414h2v1h-2zM554 415h2v1h-2zM551 416h3v1h-3zM549 417h2v1h-2zM546 418h3v1h-3zM543 419h3v1h-3zM541 420h2v1h-2zM431 421h8v1h-8zM537 421h4v1h-4zM426 422h5v1h-5zM439 422h16v1h-16zM533 422h4v1h-4zM423 423h3v1h-3zM455 423h8v1h-8zM530 423h3v1h-3zM421 424h2v1h-2zM463 424h6v1h-6zM527 424h3v1h-3zM415 425h6v1h-6zM469 425h2v1h-2zM525 425h2v1h-2zM407 426h8v1h-8zM471 426h3v1h-3zM523 426h2v1h-2zM401 427h6v1h-6zM474 427h5v1h-5zM521 427h2v1h-2zM397 428h4v1h-4zM479 428h8v1h-8zM519 428h2v1h-2zM386 429h11v1h-11zM487 429h8v1h-8zM518 429h1v1h-1zM384 430h2v1h-2zM495 430h8v1h-8zM516 430h2v1h-2zM382 431h2v1h-2zM503 431h13v1h-13zM380 432h2v1h-2zM379 433h1v1h-1zM377 434h2v1h-2zM375 435h2v1h-2zM374 436h1v1h-1zM372 437h2v1h-2zM371 438h1v1h-1zM369 439h2v1h-2zM367 440h2v1h-2zM366 441h1v1h-1zM364 442h2v1h-2zM363 443h1v1h-1zM361 444h2v1h-2zM359 445h2v1h-2zM358 446h1v1h-1zM356 447h2v1h-2zM355 448h1v1h-1zM353 449h2v1h-2zM351 450h2v1h-2zM350 451h1v1h-1zM348 452h2v1h-2zM346 453h2v1h-2zM103 454h14v1h-14zM344 454h2v1h-2zM99 455h4v1h-4zM117 455h4v1h-4zM127 455h8v1h-8zM342 455h2v1h-2zM97 456h2v1h-2zM121 456h6v1h-6zM135 456h6v1h-6zM340 456h2v1h-2zM96 457h1v1h-1zM141 457h4v1h-4zM338 457h2v1h-2zM95 458h1v1h-1zM145 458h4v1h-4zM335 458h3v1h-3zM93 459h2v1h-2zM149 459h4v1h-4zM333 459h2v1h-2zM92 460h1v1h-1zM153 460h4v1h-4zM329 460h4v1h-4zM91 461h1v1h-1zM157 461h2v1h-2zM325 461h4v1h-4zM89 462h2v1h-2zM159 462h3v1h-3zM322 462h3v1h-3zM88 463h1v1h-1zM162 463h3v1h-3zM319 463h3v1h-3zM87 464h1v1h-1zM165 464h4v1h-4zM317 464h2v1h-2zM85 465h2v1h-2zM169 465h4v1h-4zM315 465h2v1h-2zM84 466h1v1h-1zM173 466h4v1h-4zM313 466h2v1h-2zM83 467h1v1h-1zM177 467h6v1h-6zM311 467h2v1h-2zM81 468h2v1h-2zM183 468h6v1h-6zM310 468h1v1h-1zM79 469h2v1h-2zM189 469h2v1h-2zM308 469h2v1h-2zM78 470h1v1h-1zM191 470h3v1h-3zM306 470h2v1h-2zM76 471h2v1h-2zM194 471h3v1h-3zM304 471h2v1h-2zM75 472h1v1h-1zM197 472h2v1h-2zM302 472h2v1h-2zM74 473h1v1h-1zM199 473h3v1h-3zM300 473h2v1h-2zM73 474h1v1h-1zM202 474h3v1h-3zM298 474h2v1h-2zM71 475h2v1h-2zM205 475h4v1h-4zM296 475h2v1h-2zM70 476h1v1h-1zM209 476h6v1h-6zM294 476h2v1h-2zM69 477h1v1h-1zM215 477h6v1h-6zM292 477h2v1h-2zM68 478h1v1h-1zM221 478h4v1h-4zM231 478h8v1h-8zM287 478h5v1h-5zM67 479h1v1h-1zM225 479h6v1h-6zM239 479h8v1h-8zM282 479h5v1h-5zM65 480h2v1h-2zM247 480h6v1h-6zM279 480h3v1h-3zM63 481h2v1h-2zM253 481h4v1h-4zM277 481h2v1h-2zM62 482h1v1h-1zM257 482h20v1h-20zM60 483h2v1h-2zM59 484h1v1h-1zM57 485h2v1h-2zM56 486h1v1h-1zM55 487h1v1h-1zM53 488h2v1h-2zM52 489h1v1h-1zM51 490h1v1h-1zM49 491h2v1h-2zM48 492h1v1h-1zM47 493h1v1h-1zM45 494h2v1h-2zM44 495h1v1h-1zM43 496h1v1h-1zM41 497h2v1h-2zM40 498h1v1h-1zM39 499h1v1h-1zM37 500h2v1h-2zM36 501h1v1h-1zM35 502h1v1h-1zM34 503h1v1h-1zM33 504h1v1h-1zM32 505h1v1h-1zM31 506h1v1h-1zM30 507h1v1h-1zM29 508h1v1h-1zM28 509h1v1h-1zM27 510h1v1h-1zM26 511h1v1h-1zM25 512h1v1h-1zM24 513h1v1h-1zM23 514h1v1h-1zM22 515h1v1h-1zM21 516h1v1h-1zM20 517h1v1h-1zM19 518h1v1h-1zM18 519h1v1h-1zM18 520h1v1h-1zM17 521h1v1h-1zM16 522h1v1h-1zM15 523h1v1h-1zM15 524h1v1h-1zM14 525h1v1h-1zM13 526h1v1h-1zM12 527h1v1h-1zM12 528h1v1h-1zM11 529h1v1h-1zM10 530h1v1h-1zM9 531h1v1h-1zM9 532h1v1h-1zM8 533h1v1h-1zM7 534h1v1h-1zM6 535h1v1h-1zM5 536h1v1h-1zM5 537h1v1h-1zM4 538h1v1h-1zM3 539h1v1h-1z" fill="#000"/>
<path d="M1498 171h1v1h-1zM1495 172h3v1h-3zM1493 173h2v1h-2zM1491 174h2v1h-2zM1490 175h1v1h-1zM1490 176h1v1h-1zM1489 177h1v1h-1zM1488 178h1v1h-1zM1487 179h1v1h-1zM1487 180h1v1h-1zM1486 181h1v1h-1zM1485 182h1v1h-1zM1484 183h1v1h-1zM1484 184h1v1h-1zM1483 185h1v1h-1zM1481 186h2v1h-2zM1480 187h1v1h-1zM1479 188h1v1h-1zM1477 189h2v1h-2zM1476 190h1v1h-1zM1475 191h1v1h-1zM1474 192h1v1h-1zM1473 193h1v1h-1zM1472 194h1v1h-1zM1471 195h1v1h-1zM1470 196h1v1h-1zM1469 197h1v1h-1zM1468 198h1v1h-1zM1467 199h1v1h-1zM1466 200h1v1h-1zM1465 201h1v1h-1zM1463 202h2v1h-2zM1462 203h1v1h-1zM1461 204h1v1h-1zM1460 205h1v1h-1zM1459 206h1v1h-1zM1458 207h1v1h-1zM1457 208h1v1h-1zM1456 209h1v1h-1zM1455 210h1v1h-1zM1454 211h1v1h-1zM1453 212h1v1h-1zM1452 213h1v1h-1zM1450 214h2v1h-2zM1447 215h3v1h-3zM1445 216h2v1h-2zM1443 217h2v1h-2zM1443 218h1v1h-1zM1442 219h1v1h-1zM1442 220h1v1h-1zM1442 221h1v1h-1zM1442 222h1v1h-1zM1441 223h1v1h-1zM1441 224h1v1h-1zM1441 225h1v1h-1zM1440 226h1v1h-1zM1440 227h1v1h-1zM1440 228h1v1h-1zM1439 229h1v1h-1zM1439 230h1v1h-1zM1439 231h1v1h-1zM1439 232h1v1h-1zM1438 233h1v1h-1zM1438 234h1v1h-1zM1438 235h1v1h-1zM1437 236h1v1h-1zM1437 237h1v1h-1zM1437 238h1v1h-1zM1436 239h1v1h-1zM1436 240h1v1h-1zM1436 241h1v1h-1zM1436 242h1v1h-1zM1435 243h1v1h-1zM1435 244h1v1h-1zM1435 245h1v1h-1zM1434 246h1v1h-1zM1434 247h1v1h-1zM1434 248h1v1h-1zM1433 249h1v1h-1zM1433 250h1v1h-1zM1433 251h1v1h-1zM1432 252h1v1h-1zM1432 253h1v1h-1zM1432 254h1v1h-1zM1431 255h1v1h-1zM1431 256h1v1h-1zM1430 257h1v1h-1zM1430 258h1v1h-1zM1430 259h1v1h-1zM1429 260h1v1h-1zM1429 261h1v1h-1zM1429 262h1v1h-1zM1428 263h1v1h-1zM1428 264h1v1h-1zM1428 265h1v1h-1zM1427 266h1v1h-1zM1427 267h1v1h-1zM1427 268h1v1h-1zM1426 269h1v1h-1zM1426 270h1v1h-1zM1426 271h1v1h-1zM1426 272h1v1h-1zM1425 273h1v1h-1zM1425 274h1v1h-1zM1425 275h1v1h-1zM1425 276h1v1h-1zM1424 277h1v1h-1zM1424 278h1v1h-1zM1424 279h1v1h-1zM1423 280h1v1h-1zM1423 281h1v1h-1zM1423 282h1v1h-1zM1423 283h1v1h-1zM1422 284h1v1h-1zM1422 285h1v1h-1zM1422 286h1v1h-1zM1421 287h1v1h-1zM1421 288h1v1h-1zM1421 289h1v1h-1zM1421 290h1v1h-1zM1420 291h1v1h-1zM1420 292h1v1h-1zM1420 293h1v1h-1zM1420 294h1v1h-1zM1419 295h1v1h-1zM1419 296h1v1h-1zM1419 297h1v1h-1zM1418 298h1v1h-1zM1418 299h1v1h-1zM1418 300h1v1h-1zM1417 301h1v1h-1zM1417 302h1v1h-1zM1416 303h1v1h-1zM1416 304h1v1h-1zM1416 305h1v1h-1zM1415 306h1v1h-1zM1415 307h1v1h-1zM1415 308h1v1h-1zM1414 309h1v1h-1zM1414 310h1v1h-1zM1414 311h1v1h-1zM1194 312h10v1h-10zM1413 312h1v1h-1zM1192 313h2v1h-2zM1204 313h2v1h-2zM1413 313h1v1h-1zM1190 314h2v1h-2zM1206 314h2v1h-2zM1412 314h1v1h-1zM1188 315h2v1h-2zM1208 315h2v1h-2zM1412 315h1v1h-1zM1154 316h34v1h-34zM1210 316h2v1h-2zM1412 316h1v1h-1zM1151 317h3v1h-3zM1212 317h2v1h-2zM1411 317h1v1h-1zM1149 318h2v1h-2zM1214 318h2v1h-2zM1411 318h1v1h-1zM1107 319h42v1h-42zM1216 319h2v1h-2zM1231 319h5v1h-5zM1411 319h1v1h-1zM1106 320h1v1h-1zM1218 320h13v1h-13zM1236 320h2v1h-2zM1410 320h1v1h-1zM1106 321h1v1h-1zM1238 321h1v1h-1zM1410 321h1v1h-1zM1105 322h1v1h-1zM1239 322h2v1h-2zM1410 322h1v1h-1zM1105 323h1v1h-1zM1241 323h2v1h-2zM1409 323h1v1h-1zM1104 324h1v1h-1zM1243 324h1v1h-1zM1409 324h1v1h-1zM1103 325h1v1h-1zM1244 325h1v1h-1zM1409 325h1v1h-1zM1103 326h1v1h-1zM1245 326h1v1h-1zM1408 326h1v1h-1zM1102 327h1v1h-1zM1246 327h1v1h-1zM1408 327h1v1h-1zM1101 328h1v1h-1zM1247 328h1v1h-1zM1408 328h1v1h-1zM1101 329h1v1h-1zM1247 329h1v1h-1zM1407 329h1v1h-1zM833 330h3v1h-3zM1100 330h1v1h-1zM1248 330h1v1h-1zM1407 330h1v1h-1zM829 331h4v1h-4zM836 331h1v1h-1zM1100 331h1v1h-1zM1249 331h1v1h-1zM1406 331h1v1h-1zM825 332h4v1h-4zM836 332h1v1h-1zM1099 332h1v1h-1zM1250 332h1v1h-1zM1406 332h1v1h-1zM821 333h4v1h-4zM837 333h1v1h-1zM1098 333h1v1h-1zM1251 333h2v1h-2zM1406 333h1v1h-1zM817 334h4v1h-4zM837 334h1v1h-1zM1097 334h1v1h-1zM1253 334h4v1h-4zM1405 334h1v1h-1zM813 335h4v1h-4zM838 335h1v1h-1zM1097 335h1v1h-1zM1257 335h3v1h-3zM1405 335h1v1h-1zM811 336h2v1h-2zM838 336h1v1h-1zM1096 336h1v1h-1zM1260 336h2v1h-2zM1405 336h1v1h-1zM809 337h2v1h-2zM839 337h1v1h-1zM1095 337h1v1h-1zM1262 337h1v1h-1zM1404 337h1v1h-1zM807 338h2v1h-2zM839 338h1v1h-1zM1094 338h1v1h-1zM1263 338h2v1h-2zM1404 338h1v1h-1zM806 339h1v1h-1zM840 339h1v1h-1zM1093 339h1v1h-1zM1265 339h2v1h-2zM1404 339h1v1h-1zM804 340h2v1h-2zM840 340h1v1h-1zM1093 340h1v1h-1zM1267 340h4v1h-4zM1403 340h1v1h-1zM803 341h1v1h-1zM841 341h1v1h-1zM1092 341h1v1h-1zM1271 341h8v1h-8zM1403 341h1v1h-1zM802 342h1v1h-1zM841 342h1v1h-1zM1091 342h1v1h-1zM1279 342h5v1h-5zM1403 342h1v1h-1zM802 343h1v1h-1zM842 343h1v1h-1zM1091 343h1v1h-1zM1284 343h1v1h-1zM1402 343h1v1h-1zM801 344h1v1h-1zM842 344h1v1h-1zM1090 344h1v1h-1zM1285 344h1v1h-1zM1402 344h1v1h-1zM801 345h1v1h-1zM843 345h1v1h-1zM1090 345h1v1h-1zM1286 345h1v1h-1zM1401 345h1v1h-1zM800 346h1v1h-1zM844 346h2v1h-2zM1090 346h1v1h-1zM1287 346h1v1h-1zM1401 346h1v1h-1zM799 347h1v1h-1zM846 347h2v1h-2zM1089 347h1v1h-1zM1287 347h1v1h-1zM1400 347h1v1h-1zM799 348h1v1h-1zM848 348h2v1h-2zM1089 348h1v1h-1zM1288 348h1v1h-1zM1400 348h1v1h-1zM798 349h1v1h-1zM850 349h2v1h-2zM1089 349h1v1h-1zM1289 349h1v1h-1zM1399 349h1v1h-1zM797 350h1v1h-1zM852 350h2v1h-2zM1088 350h1v1h-1zM1290 350h1v1h-1zM1399 350h1v1h-1zM797 351h1v1h-1zM854 351h2v1h-2zM865 351h4v1h-4zM1088 351h1v1h-1zM1291 351h1v1h-1zM1398 351h1v1h-1zM796 352h1v1h-1zM856 352h2v1h-2zM861 352h4v1h-4zM869 352h2v1h-2zM1088 352h1v1h-1zM1292 352h1v1h-1zM1398 352h1v1h-1zM796 353h1v1h-1zM858 353h3v1h-3zM871 353h3v1h-3zM1087 353h1v1h-1zM1293 353h2v1h-2zM1397 353h1v1h-1zM795 354h1v1h-1zM874 354h2v1h-2zM1087 354h1v1h-1zM1295 354h1v1h-1zM1397 354h1v1h-1zM794 355h1v1h-1zM876 355h1v1h-1zM1086 355h1v1h-1zM1296 355h1v1h-1zM1396 355h1v1h-1zM793 356h1v1h-1zM877 356h1v1h-1zM1086 356h1v1h-1zM1297 356h2v1h-2zM1396 356h1v1h-1zM792 357h1v1h-1zM878 357h1v1h-1zM1086 357h1v1h-1zM1299 357h2v1h-2zM1393 357h3v1h-3zM791 358h1v1h-1zM879 358h1v1h-1zM1085 358h1v1h-1zM1301 358h2v1h-2zM1389 358h4v1h-4zM790 359h1v1h-1zM880 359h1v1h-1zM1085 359h1v1h-1zM1303 359h3v1h-3zM1385 359h4v1h-4zM789 360h1v1h-1zM881 360h1v1h-1zM1085 360h1v1h-1zM1306 360h3v1h-3zM1381 360h4v1h-4zM788 361h1v1h-1zM882 361h1v1h-1zM1084 361h1v1h-1zM1309 361h2v1h-2zM1375 361h6v1h-6zM787 362h1v1h-1zM883 362h1v1h-1zM1084 362h1v1h-1zM1311 362h3v1h-3zM1367 362h8v1h-8zM785 363h2v1h-2zM884 363h1v1h-1zM1084 363h1v1h-1zM1314 363h3v1h-3zM1353 363h14v1h-14zM783 364h2v1h-2zM885 364h1v1h-1zM1083 364h1v1h-1zM1317 364h4v1h-4zM1349 364h4v1h-4zM782 365h1v1h-1zM886 365h1v1h-1zM1083 365h1v1h-1zM1321 365h12v1h-12zM1346 365h3v1h-3zM780 366h2v1h-2zM887 366h1v1h-1zM1083 366h1v1h-1zM1333 366h2v1h-2zM1343 366h3v1h-3zM779 367h1v1h-1zM888 367h1v1h-1zM1082 367h1v1h-1zM1335 367h3v1h-3zM1341 367h2v1h-2zM778 368h1v1h-1zM889 368h1v1h-1zM1082 368h1v1h-1zM1338 368h3v1h-3zM777 369h1v1h-1zM890 369h1v1h-1zM1081 369h1v1h-1zM777 370h1v1h-1zM891 370h1v1h-1zM1081 370h1v1h-1zM776 371h1v1h-1zM892 371h2v1h-2zM1080 371h1v1h-1zM775 372h1v1h-1zM894 372h1v1h-1zM1080 372h1v1h-1zM774 373h1v1h-1zM895 373h2v1h-2zM1079 373h1v1h-1zM773 374h1v1h-1zM897 374h2v1h-2zM1079 374h1v1h-1zM773 375h1v1h-1zM899 375h1v1h-1zM1078 375h1v1h-1zM772 376h1v1h-1zM900 376h1v1h-1zM1078 376h1v1h-1zM759 377h13v1h-13zM901 377h2v1h-2zM1077 377h1v1h-1zM755 378h4v1h-4zM903 378h1v1h-1zM1077 378h1v1h-1zM753 379h2v1h-2zM904 379h1v1h-1zM1076 379h1v1h-1zM752 380h1v1h-1zM905 380h2v1h-2zM1076 380h1v1h-1zM751 381h1v1h-1zM907 381h1v1h-1zM1075 381h1v1h-1zM749 382h2v1h-2zM908 382h1v1h-1zM1075 382h1v1h-1zM748 383h1v1h-1zM909 383h1v1h-1zM1074 383h1v1h-1zM747 384h1v1h-1zM910 384h1v1h-1zM1073 384h1v1h-1zM746 385h1v1h-1zM911 385h1v1h-1zM1072 385h1v1h-1zM745 386h1v1h-1zM911 386h1v1h-1zM1071 386h1v1h-1zM743 387h2v1h-2zM912 387h1v1h-1zM1071 387h1v1h-1zM742 388h1v1h-1zM913 388h1v1h-1zM1070 388h1v1h-1zM741 389h1v1h-1zM914 389h1v1h-1zM1069 389h1v1h-1zM740 390h1v1h-1zM915 390h1v1h-1zM1068 390h1v1h-1zM737 391h3v1h-3zM916 391h1v1h-1zM1066 391h2v1h-2zM733 392h4v1h-4zM916 392h1v1h-1zM1064 392h2v1h-2zM729 393h4v1h-4zM917 393h1v1h-1zM1062 393h2v1h-2zM725 394h4v1h-4zM917 394h1v1h-1zM1060 394h2v1h-2zM721 395h4v1h-4zM918 395h1v1h-1zM1055 395h5v1h-5zM675 396h2v1h-2zM717 396h4v1h-4zM918 396h1v1h-1zM1050 396h5v1h-5zM674 397h1v1h-1zM677 397h4v1h-4zM713 397h4v1h-4zM919 397h1v1h-1zM1048 397h2v1h-2zM673 398h1v1h-1zM681 398h6v1h-6zM709 398h4v1h-4zM920 398h1v1h-1zM1046 398h2v1h-2zM672 399h1v1h-1zM687 399h6v1h-6zM705 399h4v1h-4zM920 399h1v1h-1zM1002 399h21v1h-21zM1044 399h2v1h-2zM671 400h1v1h-1zM693 400h4v1h-4zM701 400h4v1h-4zM921 400h1v1h-1zM1000 400h2v1h-2zM1023 400h6v1h-6zM1042 400h2v1h-2zM670 401h1v1h-1zM697 401h4v1h-4zM921 401h1v1h-1zM998 401h2v1h-2zM1029 401h2v1h-2zM1039 401h3v1h-3zM669 402h1v1h-1zM922 402h1v1h-1zM996 402h2v1h-2zM1031 402h3v1h-3zM1037 402h2v1h-2zM668 403h1v1h-1zM922 403h1v1h-1zM979 403h4v1h-4zM991 403h5v1h-5zM1034 403h3v1h-3zM667 404h1v1h-1zM923 404h1v1h-1zM978 404h1v1h-1zM983 404h8v1h-8zM666 405h1v1h-1zM924 405h1v1h-1zM977 405h1v1h-1zM665 406h1v1h-1zM924 406h1v1h-1zM975 406h2v1h-2zM664 407h1v1h-1zM925 407h1v1h-1zM974 407h1v1h-1zM663 408h1v1h-1zM926 408h1v1h-1zM973 408h1v1h-1zM663 409h1v1h-1zM927 409h1v1h-1zM972 409h1v1h-1zM662 410h1v1h-1zM927 410h1v1h-1zM971 410h1v1h-1zM661 411h1v1h-1zM928 411h1v1h-1zM969 411h2v1h-2zM660 412h1v1h-1zM929 412h1v1h-1zM968 412h1v1h-1zM659 413h1v1h-1zM930 413h1v1h-1zM967 413h1v1h-1zM658 414h1v1h-1zM930 414h1v1h-1zM965 414h2v1h-2zM658 415h1v1h-1zM931 415h2v1h-2zM964 415h1v1h-1zM657 416h1v1h-1zM933 416h2v1h-2zM962 416h2v1h-2zM656 417h1v1h-1zM935 417h3v1h-3zM959 417h3v1h-3zM655 418h1v1h-1zM938 418h3v1h-3zM957 418h2v1h-2zM655 419h1v1h-1zM941 419h4v1h-4zM951 419h6v1h-6zM654 420h1v1h-1zM945 420h6v1h-6zM653 421h1v1h-1zM652 422h1v1h-1zM652 423h1v1h-1zM651 424h1v1h-1zM650 425h1v1h-1zM649 426h1v1h-1zM648 427h1v1h-1zM647 428h1v1h-1zM647 429h1v1h-1zM646 430h1v1h-1zM645 431h1v1h-1zM644 432h1v1h-1zM643 433h1v1h-1zM642 434h1v1h-1zM641 435h1v1h-1zM640 436h1v1h-1zM639 437h1v1h-1zM639 438h1v1h-1zM638 439h1v1h-1zM637 440h1v1h-1zM636 441h1v1h-1zM635 442h1v1h-1zM634 443h1v1h-1zM633 444h1v1h-1zM631 445h2v1h-2zM630 446h1v1h-1zM629 447h1v1h-1zM628 448h1v1h-1zM626 449h2v1h-2zM623 450h3v1h-3zM621 451h2v1h-2zM617 452h4v1h-4zM613 453h4v1h-4zM610 454h3v1h-3zM608 455h2v1h-2zM606 456h2v1h-2zM604 457h2v1h-2zM603 458h1v1h-1zM601 459h2v1h-2zM471 460h8v1h-8zM600 460h1v1h-1zM435 461h2v1h-2zM465 461h6v1h-6zM479 461h37v1h-37zM599 461h1v1h-1zM433 462h2v1h-2zM437 462h4v1h-4zM461 462h4v1h-4zM516 462h1v1h-1zM597 462h2v1h-2zM432 463h1v1h-1zM441 463h6v1h-6zM455 463h6v1h-6zM516 463h1v1h-1zM596 463h1v1h-1zM431 464h1v1h-1zM447 464h8v1h-8zM517 464h1v1h-1zM594 464h2v1h-2zM429 465h2v1h-2zM517 465h1v1h-1zM592 465h2v1h-2zM428 466h1v1h-1zM518 466h1v1h-1zM590 466h2v1h-2zM427 467h1v1h-1zM519 467h1v1h-1zM588 467h2v1h-2zM426 468h1v1h-1zM519 468h1v1h-1zM586 468h2v1h-2zM425 469h1v1h-1zM520 469h1v1h-1zM584 469h2v1h-2zM423 470h2v1h-2zM521 470h1v1h-1zM582 470h2v1h-2zM422 471h1v1h-1zM521 471h1v1h-1zM580 471h2v1h-2zM421 472h1v1h-1zM522 472h1v1h-1zM579 472h1v1h-1zM420 473h1v1h-1zM522 473h1v1h-1zM577 473h2v1h-2zM419 474h1v1h-1zM523 474h1v1h-1zM575 474h2v1h-2zM417 475h2v1h-2zM524 475h2v1h-2zM574 475h1v1h-1zM415 476h2v1h-2zM526 476h1v1h-1zM572 476h2v1h-2zM414 477h1v1h-1zM527 477h2v1h-2zM570 477h2v1h-2zM412 478h2v1h-2zM529 478h2v1h-2zM567 478h3v1h-3zM410 479h2v1h-2zM531 479h1v1h-1zM565 479h2v1h-2zM408 480h2v1h-2zM532 480h2v1h-2zM561 480h4v1h-4zM406 481h2v1h-2zM534 481h1v1h-1zM557 481h4v1h-4zM404 482h2v1h-2zM535 482h2v1h-2zM553 482h4v1h-4zM403 483h1v1h-1zM537 483h2v1h-2zM549 483h4v1h-4zM401 484h2v1h-2zM539 484h10v1h-10zM399 485h2v1h-2zM398 486h1v1h-1zM396 487h2v1h-2zM391 488h5v1h-5zM387 489h4v1h-4zM386 490h1v1h-1zM386 491h1v1h-1zM385 492h1v1h-1zM385 493h1v1h-1zM384 494h1v1h-1zM179 495h2v1h-2zM383 495h1v1h-1zM105 496h12v1h-12zM177 496h2v1h-2zM181 496h2v1h-2zM383 496h1v1h-1zM101 497h4v1h-4zM117 497h2v1h-2zM175 497h2v1h-2zM183 497h3v1h-3zM382 497h1v1h-1zM99 498h2v1h-2zM119 498h3v1h-3zM127 498h6v1h-6zM174 498h1v1h-1zM186 498h2v1h-2zM381 498h1v1h-1zM99 499h1v1h-1zM122 499h5v1h-5zM133 499h4v1h-4zM172 499h2v1h-2zM188 499h1v1h-1zM381 499h1v1h-1zM98 500h1v1h-1zM137 500h4v1h-4zM170 500h2v1h-2zM189 500h1v1h-1zM380 500h1v1h-1zM98 501h1v1h-1zM141 501h2v1h-2zM168 501h2v1h-2zM190 501h1v1h-1zM380 501h1v1h-1zM98 502h1v1h-1zM143 502h3v1h-3zM166 502h2v1h-2zM191 502h1v1h-1zM379 502h1v1h-1zM97 503h1v1h-1zM146 503h5v1h-5zM164 503h2v1h-2zM191 503h1v1h-1zM378 503h1v1h-1zM97 504h1v1h-1zM151 504h13v1h-13zM192 504h1v1h-1zM377 504h1v1h-1zM97 505h1v1h-1zM193 505h1v1h-1zM376 505h1v1h-1zM96 506h1v1h-1zM194 506h1v1h-1zM375 506h1v1h-1zM96 507h1v1h-1zM195 507h1v1h-1zM374 507h1v1h-1zM96 508h1v1h-1zM196 508h1v1h-1zM373 508h1v1h-1zM95 509h1v1h-1zM197 509h1v1h-1zM372 509h1v1h-1zM95 510h1v1h-1zM198 510h1v1h-1zM371 510h1v1h-1zM94 511h1v1h-1zM199 511h1v1h-1zM370 511h1v1h-1zM94 512h1v1h-1zM199 512h1v1h-1zM370 512h1v1h-1zM94 513h1v1h-1zM200 513h1v1h-1zM369 513h1v1h-1zM93 514h1v1h-1zM201 514h1v1h-1zM369 514h1v1h-1zM93 515h1v1h-1zM202 515h1v1h-1zM368 515h1v1h-1zM93 516h1v1h-1zM203 516h1v1h-1zM368 516h1v1h-1zM92 517h1v1h-1zM204 517h1v1h-1zM367 517h1v1h-1zM92 518h1v1h-1zM205 518h1v1h-1zM366 518h1v1h-1zM92 519h1v1h-1zM206 519h1v1h-1zM366 519h1v1h-1zM91 520h1v1h-1zM207 520h2v1h-2zM365 520h1v1h-1zM91 521h1v1h-1zM209 521h1v1h-1zM365 521h1v1h-1zM91 522h1v1h-1zM210 522h1v1h-1zM364 522h1v1h-1zM90 523h1v1h-1zM211 523h2v1h-2zM364 523h1v1h-1zM90 524h1v1h-1zM213 524h2v1h-2zM363 524h1v1h-1zM90 525h1v1h-1zM215 525h3v1h-3zM362 525h1v1h-1zM89 526h1v1h-1zM218 526h3v1h-3zM362 526h1v1h-1zM89 527h1v1h-1zM221 527h2v1h-2zM257 527h20v1h-20zM361 527h1v1h-1zM88 528h1v1h-1zM223 528h3v1h-3zM253 528h4v1h-4zM277 528h4v1h-4zM360 528h1v1h-1zM88 529h1v1h-1zM226 529h5v1h-5zM247 529h6v1h-6zM281 529h6v1h-6zM359 529h1v1h-1zM88 530h1v1h-1zM231 530h16v1h-16zM287 530h5v1h-5zM359 530h1v1h-1zM87 531h1v1h-1zM292 531h1v1h-1zM358 531h1v1h-1zM87 532h1v1h-1zM293 532h1v1h-1zM357 532h1v1h-1zM87 533h1v1h-1zM294 533h1v1h-1zM356 533h1v1h-1zM86 534h1v1h-1zM295 534h2v1h-2zM356 534h1v1h-1zM86 535h1v1h-1zM297 535h1v1h-1zM355 535h1v1h-1zM86 536h1v1h-1zM298 536h1v1h-1zM354 536h1v1h-1zM85 537h1v1h-1zM299 537h1v1h-1zM353 537h1v1h-1zM85 538h1v1h-1zM300 538h1v1h-1zM352 538h1v1h-1zM84 539h1v1h-1zM301 539h1v1h-1zM351 539h1v1h-1zM84 540h1v1h-1zM302 540h1v1h-1zM350 540h1v1h-1zM84 541h1v1h-1zM303 541h2v1h-2zM349 541h1v1h-1zM83 542h1v1h-1zM305 542h1v1h-1zM348 542h1v1h-1zM83 543h1v1h-1zM306 543h1v1h-1zM346 543h2v1h-2zM82 544h1v1h-1zM307 544h2v1h-2zM344 544h2v1h-2zM82 545h1v1h-1zM309 545h2v1h-2zM342 545h2v1h-2zM81 546h1v1h-1zM311 546h3v1h-3zM319 546h8v1h-8zM340 546h2v1h-2zM81 547h1v1h-1zM314 547h5v1h-5zM327 547h13v1h-13zM80 548h1v1h-1zM80 549h1v1h-1zM79 550h1v1h-1z" fill="#000"/>
<g clip-path="url(#cm)">
<rect x="3" y="401" width="1" height="47"/>
<rect x="1" y="422" width="5" height="2"/>
<rect x="11" y="411" width="1" height="16"/>
<rect x="9" y="416" width="5" height="10"/>
<rect x="10" y="417" width="3" height="8" fill="#fff"/>
<rect x="19" y="411" width="1" height="16"/>
<rect x="17" y="416" width="5" height="5"/>
<rect x="27" y="419" width="1" height="71"/>
<rect x="25" y="421" width="5" height="52"/>
<rect x="35" y="452" width="1" height="30"/>
<rect x="33" y="458" width="5" height="15"/>
<rect x="34" y="459" width="3" height="13" fill="#fff"/>
<rect x="43" y="452" width="1" height="39"/>
<rect x="41" y="457" width="5" height="19"/>
<rect x="51" y="475" width="1" height="7"/>
<rect x="49" y="475" width="5" height="1"/>
<rect x="59" y="467" width="1" height="15"/>
<rect x="57" y="471" width="5" height="1"/>
<rect x="67" y="469" width="1" height="18"/>
<rect x="65" y="471" width="5" height="12"/>
<rect x="75" y="455" width="1" height="47"/>
<rect x="73" y="459" width="5" height="25"/>
<rect x="74" y="460" width="3" height="23" fill="#fff"/>
<rect x="83" y="437" width="1" height="25"/>
<rect x="81" y="451" width="5" height="8"/>
<rect x="82" y="452" width="3" height="6" fill="#fff"/>
<rect x="91" y="436" width="1" height="33"/>
<rect x="89" y="448" width="5" height="4"/>
<rect x="90" y="449" width="3" height="2" fill="#fff"/>
<rect x="99" y="434" width="1" height="29"/>
<rect x="97" y="440" width="5" height="9"/>
<rect x="98" y="441" width="3" height="7" fill="#fff"/>
<rect x="107" y="459" width="1" height="20"/>
<rect x="105" y="463" width="5" height="6"/>
<rect x="106" y="464" width="3" height="4" fill="#fff"/>
<rect x="115" y="458" width="1" height="32"/>
<rect x="113" y="464" width="5" height="26"/>
<rect x="123" y="474" width="1" height="36"/>
<rect x="121" y="487" width="5" height="2"/>
<rect x="131" y="438" width="1" height="56"/>
<rect x="129" y="444" width="5" height="43"/>
<rect x="130" y="445" width="3" height="41" fill="#fff"/>
<rect x="139" y="428" width="1" height="70"/>
<rect x="137" y="443" width="5" height="38"/>
<rect x="147" y="438" width="1" height="52"/>
<rect x="145" y="473" width="5" height="8"/>
<rect x="146" y="474" width="3" height="6" fill="#fff"/>
<rect x="155" y="455" width="1" height="28"/>
<rect x="153" y="475" width="5" height="8"/>
<rect x="163" y="465" width="1" height="22"/>
<rect x="161" y="471" width="5" height="11"/>
<rect x="162" y="472" width="3" height="9" fill="#fff"/>
<rect x="171" y="434" width="1" height="48"/>
<rect x="169" y="459" width="5" height="13"/>
<rect x="170" y="460" width="3" height="11" fill="#fff"/>
<rect x="179" y="448" width="1" height="29"/>
<rect x="177" y="460" width="5" height="6"/>
<rect x="187" y="461" width="1" height="66"/>
<rect x="185" y="465" width="5" height="30"/>
<rect x="195" y="492" width="1" height="32"/>
<rect x="193" y="493" width="5" height="23"/>
<rect x="203" y="509" width="1" height="18"/>
<rect x="201" y="515" width="5" height="8"/>
<rect x="211" y="521" width="1" height="18"/>
<rect x="209" y="522" width="5" height="2"/>
<rect x="219" y="488" width="1" height="37"/>
<rect x="217" y="498" width="5" height="27"/>
<rect x="218" y="499" width="3" height="25" fill="#fff"/>
<rect x="227" y="499" width="1" height="25"/>
<rect x="225" y="499" width="5" height="13"/>
<rect x="235" y="421" width="1" height="91"/>
<rect x="233" y="443" width="5" height="68"/>
<rect x="234" y="444" width="3" height="66" fill="#fff"/>
<rect x="243" y="439" width="1" height="48"/>
<rect x="241" y="444" width="5" height="36"/>
<rect x="251" y="462" width="1" height="21"/>
<rect x="249" y="467" width="5" height="11"/>
<rect x="250" y="468" width="3" height="9" fill="#fff"/>
<rect x="259" y="451" width="1" height="25"/>
<rect x="257" y="468" width="5" height="6"/>
<rect x="267" y="446" width="1" height="48"/>
<rect x="265" y="473" width="5" height="2"/>
<rect x="275" y="448" width="1" height="38"/>
<rect x="273" y="469" width="5" height="5"/>
<rect x="274" y="470" width="3" height="3" fill="#fff"/>
<rect x="283" y="425" width="1" height="55"/>
<rect x="281" y="429" width="5" height="42"/>
<rect x="282" y="430" width="3" height="40" fill="#fff"/>
<rect x="291" y="427" width="1" height="27"/>
<rect x="289" y="429" width="5" height="10"/>
<rect x="299" y="385" width="1" height="58"/>
<rect x="297" y="393" width="5" height="47"/>
<rect x="298" y="394" width="3" height="45" fill="#fff"/>
<rect x="307" y="383" width="1" height="16"/>
<rect x="305" y="386" width="5" height="8"/>
<rect x="306" y="387" width="3" height="6" fill="#fff"/>
<rect x="315" y="376" width="1" height="31"/>
<rect x="313" y="387" width="5" height="3"/>
<rect x="323" y="389" width="1" height="41"/>
<rect x="321" y="389" width="5" height="27"/>
<rect x="331" y="399" width="1" height="37"/>
<rect x="329" y="408" width="5" height="8"/>
<rect x="330" y="409" width="3" height="6" fill="#fff"/>
<rect x="339" y="391" width="1" height="28"/>
<rect x="337" y="408" width="5" height="7"/>
<rect x="347" y="405" width="1" height="12"/>
<rect x="345" y="407" width="5" height="5"/>
<rect x="355" y="408" width="1" height="13"/>
<rect x="353" y="411" width="5" height="2"/>
<rect x="363" y="408" width="1" height="46"/>
<rect x="361" y="411" width="5" height="21"/>
<rect x="371" y="419" width="1" height="17"/>
<rect x="369" y="423" width="5" height="8"/>
<rect x="370" y="424" width="3" height="6" fill="#fff"/>
<rect x="379" y="384" width="1" height="55"/>
<rect x="377" y="388" width="5" height="37"/>
<rect x="378" y="389" width="3" height="35" fill="#fff"/>
<rect x="387" y="387" width="1" height="53"/>
<rect x="385" y="387" width="5" height="51"/>
<rect x="395" y="434" width="1" height="12"/>
<rect x="393" y="439" width="5" height="4"/>
<rect x="403" y="442" width="1" height="18"/>
<rect x="401" y="443" width="5" height="2"/>
<rect x="411" y="420" width="1" height="47"/>
<rect x="409" y="439" width="5" height="7"/>
<rect x="410" y="440" width="3" height="5" fill="#fff"/>
<rect x="419" y="434" width="1" height="20"/>
<rect x="417" y="440" width="5" height="10"/>
<rect x="427" y="426" width="1" height="40"/>
<rect x="425" y="433" width="5" height="17"/>
<rect x="426" y="434" width="3" height="15" fill="#fff"/>
<rect x="435" y="430" width="1" height="23"/>
<rect x="433" y="433" width="5" height="9"/>
<rect x="443" y="431" width="1" height="19"/>
<rect x="441" y="439" width="5" height="10"/>
<rect x="451" y="443" width="1" height="13"/>
<rect x="449" y="444" width="5" height="5"/>
<rect x="450" y="445" width="3" height="3" fill="#fff"/>
<rect x="459" y="402" width="1" height="53"/>
<rect x="457" y="408" width="5" height="38"/>
<rect x="458" y="409" width="3" height="36" fill="#fff"/>
<rect x="467" y="408" width="1" height="31"/>
<rect x="465" y="408" width="5" height="6"/>
<rect x="475" y="407" width="1" height="70"/>
<rect x="473" y="413" width="5" height="24"/>
<rect x="483" y="428" width="1" height="25"/>
<rect x="481" y="434" width="5" height="3"/>
<rect x="482" y="435" width="3" height="1" fill="#fff"/>
<rect x="491" y="424" width="1" height="13"/>
<rect x="489" y="431" width="5" height="4"/>
<rect x="490" y="432" width="3" height="2" fill="#fff"/>
<rect x="499" y="423" width="1" height="13"/>
<rect x="497" y="430" width="5" height="6"/>
<rect x="507" y="416" width="1" height="28"/>
<rect x="505" y="423" width="5" height="12"/>
<rect x="506" y="424" width="3" height="10" fill="#fff"/>
<rect x="515" y="400" width="1" height="27"/>
<rect x="513" y="412" width="5" height="12"/>
<rect x="514" y="413" width="3" height="10" fill="#fff"/>
<rect x="523" y="313" width="1" height="101"/>
<rect x="521" y="346" width="5" height="67"/>
<rect x="522" y="347" width="3" height="65" fill="#fff"/>
<rect x="531" y="346" width="1" height="30"/>
<rect x="529" y="346" width="5" height="16"/>
<rect x="539" y="339" width="1" height="23"/>
<rect x="537" y="348" width="5" height="14"/>
<rect x="538" y="349" width="3" height="12" fill="#fff"/>
<rect x="547" y="348" width="1" height="31"/>
<rect x="545" y="349" width="5" height="18"/>
<rect x="555" y="343" width="1" height="40"/>
<rect x="553" y="366" width="5" height="15"/>
<rect x="563" y="362" width="1" height="32"/>
<rect x="561" y="371" width="5" height="9"/>
<rect x="562" y="372" width="3" height="7" fill="#fff"/>
<rect x="571" y="359" width="1" height="37"/>
<rect x="569" y="371" width="5" height="8"/>
<rect x="579" y="375" width="1" height="17"/>
<rect x="577" y="377" width="5" height="4"/>
<rect x="587" y="375" width="1" height="14"/>
<rect x="585" y="381" width="5" height="3"/>
<rect x="586" y="382" width="3" height="1" fill="#fff"/>
<rect x="595" y="361" width="1" height="23"/>
<rect x="593" y="370" width="5" height="12"/>
<rect x="594" y="371" width="3" height="10" fill="#fff"/>
<rect x="603" y="335" width="1" height="36"/>
<rect x="601" y="343" width="5" height="27"/>
<rect x="602" y="344" width="3" height="25" fill="#fff"/>
<rect x="611" y="323" width="1" height="29"/>
<rect x="609" y="328" width="5" height="17"/>
<rect x="610" y="329" width="3" height="15" fill="#fff"/>
<rect x="619" y="323" width="1" height="100"/>
<rect x="617" y="328" width="5" height="47"/>
<rect x="627" y="343" width="1" height="34"/>
<rect x="625" y="346" width="5" height="29"/>
<rect x="626" y="347" width="3" height="27" fill="#fff"/>
<rect x="635" y="345" width="1" height="17"/>
<rect x="633" y="348" width="5" height="9"/>
<rect x="643" y="356" width="1" height="15"/>
<rect x="641" y="357" width="5" height="9"/>
<rect x="651" y="336" width="1" height="38"/>
<rect x="649" y="343" width="5" height="23"/>
<rect x="650" y="344" width="3" height="21" fill="#fff"/>
<rect x="659" y="317" width="1" height="36"/>
<rect x="657" y="326" width="5" height="18"/>
<rect x="658" y="327" width="3" height="16" fill="#fff"/>
<rect x="667" y="305" width="1" height="37"/>
<rect x="665" y="320" width="5" height="7"/>
<rect x="666" y="321" width="3" height="5" fill="#fff"/>
<rect x="675" y="306" width="1" height="25"/>
<rect x="673" y="312" width="5" height="10"/>
<rect x="674" y="313" width="3" height="8" fill="#fff"/>
<rect x="683" y="312" width="1" height="7"/>
<rect x="681" y="315" width="5" height="4"/>
<rect x="691" y="309" width="1" height="10"/>
<rect x="689" y="313" width="5" height="5"/>
<rect x="690" y="314" width="3" height="3" fill="#fff"/>
<rect x="699" y="295" width="1" height="32"/>
<rect x="697" y="302" width="5" height="13"/>
<rect x="698" y="303" width="3" height="11" fill="#fff"/>
<rect x="707" y="298" width="1" height="26"/>
<rect x="705" y="302" width="5" height="18"/>
<rect x="715" y="295" width="1" height="42"/>
<rect x="713" y="296" width="5" height="24"/>
<rect x="714" y="297" width="3" height="22" fill="#fff"/>
<rect x="723" y="292" width="1" height="17"/>
<rect x="721" y="294" width="5" height="3"/>
<rect x="722" y="295" width="3" height="1" fill="#fff"/>
<rect x="731" y="279" width="1" height="21"/>
<rect x="729" y="279" width="5" height="15"/>
<rect x="730" y="280" width="3" height="13" fill="#fff"/>
<rect x="739" y="262" width="1" height="19"/>
<rect x="737" y="262" width="5" height="19"/>
<rect x="738" y="263" width="3" height="17" fill="#fff"/>
<rect x="747" y="251" width="1" height="26"/>
<rect x="745" y="262" width="5" height="14"/>
<rect x="755" y="270" width="1" height="26"/>
<rect x="753" y="275" width="5" height="4"/>
<rect x="763" y="254" width="1" height="32"/>
<rect x="761" y="269" width="5" height="10"/>
<rect x="762" y="270" width="3" height="8" fill="#fff"/>
<rect x="771" y="259" width="1" height="21"/>
<rect x="769" y="263" width="5" height="6"/>
<rect x="770" y="264" width="3" height="4" fill="#fff"/>
<rect x="779" y="263" width="1" height="15"/>
<rect x="777" y="263" width="5" height="9"/>
<rect x="787" y="267" width="1" height="16"/>
<rect x="785" y="272" width="5" height="7"/>
<rect x="795" y="258" width="1" height="23"/>
<rect x="793" y="269" width="5" height="10"/>
<rect x="794" y="270" width="3" height="8" fill="#fff"/>
<rect x="803" y="256" width="1" height="23"/>
<rect x="801" y="259" width="5" height="10"/>
<rect x="802" y="260" width="3" height="8" fill="#fff"/>
<rect x="811" y="219" width="1" height="42"/>
<rect x="809" y="235" width="5" height="24"/>
<rect x="810" y="236" width="3" height="22" fill="#fff"/>
<rect x="819" y="213" width="1" height="28"/>
<rect x="817" y="230" width="5" height="6"/>
<rect x="818" y="231" width="3" height="4" fill="#fff"/>
<rect x="827" y="275" width="1" height="58"/>
<rect x="825" y="275" width="5" height="36"/>
<rect x="835" y="292" width="1" height="34"/>
<rect x="833" y="296" width="5" height="16"/>
<rect x="834" y="297" width="3" height="14" fill="#fff"/>
<rect x="843" y="296" width="1" height="80"/>
<rect x="841" y="296" width="5" height="78"/>
<rect x="851" y="316" width="1" height="86"/>
<rect x="849" y="335" width="5" height="39"/>
<rect x="850" y="336" width="3" height="37" fill="#fff"/>
<rect x="859" y="321" width="1" height="45"/>
<rect x="857" y="329" width="5" height="7"/>
<rect x="858" y="330" width="3" height="5" fill="#fff"/>
<rect x="867" y="290" width="1" height="41"/>
<rect x="865" y="308" width="5" height="21"/>
<rect x="866" y="309" width="3" height="19" fill="#fff"/>
<rect x="875" y="301" width="1" height="19"/>
<rect x="873" y="308" width="5" height="9"/>
<rect x="883" y="308" width="1" height="52"/>
<rect x="881" y="317" width="5" height="36"/>
<rect x="891" y="338" width="1" height="44"/>
<rect x="889" y="350" width="5" height="4"/>
<rect x="890" y="351" width="3" height="2" fill="#fff"/>
<rect x="899" y="320" width="1" height="36"/>
<rect x="897" y="335" width="5" height="15"/>
<rect x="898" y="336" width="3" height="13" fill="#fff"/>
<rect x="907" y="324" width="1" height="35"/>
<rect x="905" y="334" width="5" height="15"/>
<rect x="915" y="341" width="1" height="33"/>
<rect x="913" y="348" width="5" height="24"/>
<rect x="923" y="363" width="1" height="36"/>
<rect x="921" y="371" width="5" height="26"/>
<rect x="931" y="392" width="1" height="17"/>
<rect x="929" y="397" width="5" height="2"/>
<rect x="939" y="353" width="1" height="49"/>
<rect x="937" y="353" width="5" height="47"/>
<rect x="938" y="354" width="3" height="45" fill="#fff"/>
<rect x="947" y="343" width="1" height="19"/>
<rect x="945" y="348" width="5" height="6"/>
<rect x="946" y="349" width="3" height="4" fill="#fff"/>
<rect x="955" y="269" width="1" height="80"/>
<rect x="953" y="288" width="5" height="60"/>
<rect x="954" y="289" width="3" height="58" fill="#fff"/>
<rect x="963" y="278" width="1" height="26"/>
<rect x="961" y="289" width="5" height="6"/>
<rect x="971" y="279" width="1" height="21"/>
<rect x="969" y="289" width="5" height="8"/>
<rect x="970" y="290" width="3" height="6" fill="#fff"/>
<rect x="979" y="263" width="1" height="29"/>
<rect x="977" y="272" width="5" height="19"/>
<rect x="978" y="273" width="3" height="17" fill="#fff"/>
<rect x="987" y="268" width="1" height="41"/>
<rect x="985" y="272" width="5" height="32"/>
<rect x="995" y="295" width="1" height="30"/>
<rect x="993" y="303" width="5" height="11"/>
<rect x="1003" y="285" width="1" height="34"/>
<rect x="1001" y="285" width="5" height="30"/>
<rect x="1002" y="286" width="3" height="28" fill="#fff"/>
<rect x="1011" y="283" width="1" height="11"/>
<rect x="1009" y="283" width="5" height="4"/>
<rect x="1010" y="284" width="3" height="2" fill="#fff"/>
<rect x="1019" y="282" width="1" height="20"/>
<rect x="1017" y="286" width="5" height="11"/>
<rect x="1018" y="287" width="3" height="9" fill="#fff"/>
<rect x="1027" y="283" width="1" height="14"/>
<rect x="1025" y="287" width="5" height="7"/>
<rect x="1035" y="242" width="1" height="65"/>
<rect x="1033" y="249" width="5" height="46"/>
<rect x="1034" y="250" width="3" height="44" fill="#fff"/>
<rect x="1043" y="243" width="1" height="41"/>
<rect x="1041" y="248" width="5" height="28"/>
<rect x="1051" y="266" width="1" height="34"/>
<rect x="1049" y="275" width="5" height="12"/>
<rect x="1059" y="286" width="1" height="40"/>
<rect x="1057" y="287" width="5" height="30"/>
<rect x="1067" y="295" width="1" height="23"/>
<rect x="1065" y="302" width="5" height="14"/>
<rect x="1066" y="303" width="3" height="12" fill="#fff"/>
<rect x="1075" y="299" width="1" height="17"/>
<rect x="1073" y="302" width="5" height="1"/>
<rect x="1083" y="284" width="1" height="30"/>
<rect x="1081" y="288" width="5" height="16"/>
<rect x="1082" y="289" width="3" height="14" fill="#fff"/>
<rect x="1091" y="278" width="1" height="22"/>
<rect x="1089" y="287" width="5" height="2"/>
<rect x="1099" y="281" width="1" height="26"/>
<rect x="1097" y="288" width="5" height="16"/>
<rect x="1107" y="280" width="1" height="32"/>
<rect x="1105" y="294" width="5" height="11"/>
<rect x="1106" y="295" width="3" height="9" fill="#fff"/>
<rect x="1115" y="280" width="1" height="18"/>
<rect x="1113" y="282" width="5" height="16"/>
<rect x="1114" y="283" width="3" height="14" fill="#fff"/>
<rect x="1123" y="279" width="1" height="10"/>
<rect x="1121" y="283" width="5" height="6"/>
<rect x="1131" y="272" width="1" height="22"/>
<rect x="1129" y="273" width="5" height="17"/>
<rect x="1130" y="274" width="3" height="15" fill="#fff"/>
<rect x="1139" y="270" width="1" height="23"/>
<rect x="1137" y="273" width="5" height="18"/>
<rect x="1147" y="260" width="1" height="62"/>
<rect x="1145" y="290" width="5" height="14"/>
<rect x="1155" y="271" width="1" height="34"/>
<rect x="1153" y="280" width="5" height="24"/>
<rect x="1154" y="281" width="3" height="22" fill="#fff"/>
<rect x="1163" y="275" width="1" height="12"/>
<rect x="1161" y="279" width="5" height="7"/>
<rect x="1171" y="275" width="1" height="17"/>
<rect x="1169" y="280" width="5" height="6"/>
<rect x="1170" y="281" width="3" height="4" fill="#fff"/>
<rect x="1179" y="273" width="1" height="21"/>
<rect x="1177" y="279" width="5" height="4"/>
<rect x="1187" y="280" width="1" height="33"/>
<rect x="1185" y="281" width="5" height="21"/>
<rect x="1195" y="281" width="1" height="28"/>
<rect x="1193" y="292" width="5" height="9"/>
<rect x="1194" y="293" width="3" height="7" fill="#fff"/>
<rect x="1203" y="265" width="1" height="30"/>
<rect x="1201" y="273" width="5" height="20"/>
<rect x="1202" y="274" width="3" height="18" fill="#fff"/>
<rect x="1211" y="253" width="1" height="19"/>
<rect x="1209" y="253" width="5" height="19"/>
<rect x="1210" y="254" width="3" height="17" fill="#fff"/>
<rect x="1219" y="221" width="1" height="35"/>
<rect x="1217" y="228" width="5" height="26"/>
<rect x="1218" y="229" width="3" height="24" fill="#fff"/>
<rect x="1227" y="191" width="1" height="64"/>
<rect x="1225" y="227" width="5" height="21"/>
<rect x="1235" y="236" width="1" height="54"/>
<rect x="1233" y="242" width="5" height="7"/>
<rect x="1234" y="243" width="3" height="5" fill="#fff"/>
<rect x="1243" y="236" width="1" height="107"/>
<rect x="1241" y="243" width="5" height="77"/>
<rect x="1251" y="296" width="1" height="51"/>
<rect x="1249" y="320" width="5" height="19"/>
<rect x="1259" y="309" width="1" height="34"/>
<rect x="1257" y="314" width="5" height="25"/>
<rect x="1258" y="315" width="3" height="23" fill="#fff"/>
<rect x="1267" y="309" width="1" height="20"/>
<rect x="1265" y="313" width="5" height="16"/>
<rect x="1275" y="293" width="1" height="46"/>
<rect x="1273" y="295" width="5" height="34"/>
<rect x="1274" y="296" width="3" height="32" fill="#fff"/>
<rect x="1283" y="266" width="1" height="47"/>
<rect x="1281" y="295" width="5" height="4"/>
<rect x="1291" y="179" width="1" height="120"/>
<rect x="1289" y="190" width="5" height="109"/>
<rect x="1290" y="191" width="3" height="107" fill="#fff"/>
<rect x="1299" y="169" width="1" height="25"/>
<rect x="1297" y="190" width="5" height="2"/>
<rect x="1307" y="173" width="1" height="25"/>
<rect x="1305" y="179" width="5" height="14"/>
<rect x="1306" y="180" width="3" height="12" fill="#fff"/>
<rect x="1315" y="166" width="1" height="26"/>
<rect x="1313" y="179" width="5" height="2"/>
<rect x="1323" y="169" width="1" height="31"/>
<rect x="1321" y="176" width="5" height="5"/>
<rect x="1322" y="177" width="3" height="3" fill="#fff"/>
<rect x="1331" y="147" width="1" height="64"/>
<rect x="1329" y="176" width="5" height="7"/>
<rect x="1339" y="129" width="1" height="63"/>
<rect x="1337" y="138" width="5" height="45"/>
<rect x="1338" y="139" width="3" height="43" fill="#fff"/>
<rect x="1347" y="126" width="1" height="86"/>
<rect x="1345" y="138" width="5" height="14"/>
<rect x="1355" y="132" width="1" height="25"/>
<rect x="1353" y="133" width="5" height="19"/>
<rect x="1354" y="134" width="3" height="17" fill="#fff"/>
<rect x="1363" y="114" width="1" height="23"/>
<rect x="1361" y="119" width="5" height="15"/>
<rect x="1362" y="120" width="3" height="13" fill="#fff"/>
<rect x="1371" y="106" width="1" height="30"/>
<rect x="1369" y="119" width="5" height="11"/>
<rect x="1379" y="115" width="1" height="41"/>
<rect x="1377" y="129" width="5" height="27"/>
<rect x="1387" y="117" width="1" height="39"/>
<rect x="1385" y="136" width="5" height="19"/>
<rect x="1386" y="137" width="3" height="17" fill="#fff"/>
<rect x="1395" y="123" width="1" height="18"/>
<rect x="1393" y="126" width="5" height="11"/>
<rect x="1394" y="127" width="3" height="9" fill="#fff"/>
<rect x="1403" y="117" width="1" height="17"/>
<rect x="1401" y="124" width="5" height="8"/>
<rect x="1402" y="125" width="3" height="6" fill="#fff"/>
<rect x="1411" y="111" width="1" height="18"/>
<rect x="1409" y="122" width="5" height="4"/>
<rect x="1410" y="123" width="3" height="2" fill="#fff"/>
<rect x="1419" y="102" width="1" height="25"/>
<rect x="1417" y="115" width="5" height="9"/>
<rect x="1418" y="116" width="3" height="7" fill="#fff"/>
<rect x="1427" y="73" width="1" height="48"/>
<rect x="1425" y="88" width="5" height="29"/>
<rect x="1426" y="89" width="3" height="27" fill="#fff"/>
<rect x="1435" y="75" width="1" height="30"/>
<rect x="1433" y="75" width="5" height="15"/>
<rect x="1434" y="76" width="3" height="13" fill="#fff"/>
<rect x="1443" y="29" width="1" height="61"/>
<rect x="1441" y="33" width="5" height="43"/>
<rect x="1442" y="34" width="3" height="41" fill="#fff"/>
<rect x="1451" y="41" width="1" height="25"/>
<rect x="1449" y="41" width="5" height="18"/>
<rect x="1459" y="54" width="1" height="29"/>
<rect x="1457" y="58" width="5" height="16"/>
<rect x="1467" y="55" width="1" height="35"/>
<rect x="1465" y="75" width="5" height="9"/>
<rect x="1475" y="63" width="1" height="23"/>
<rect x="1473" y="81" width="5" height="4"/>
<rect x="1474" y="82" width="3" height="2" fill="#fff"/>
<rect x="1483" y="39" width="1" height="54"/>
<rect x="1481" y="48" width="5" height="35"/>
<rect x="1482" y="49" width="3" height="33" fill="#fff"/>
<rect x="1491" y="41" width="1" height="24"/>
<rect x="1489" y="48" width="5" height="5"/>
<rect x="1499" y="50" width="1" height="9"/>
<rect x="1497" y="52" width="5" height="4"/>
</g>
<rect x="3.5" y="90.5" width="4" height="4" fill="#fff" stroke="#f00" stroke-width="1"/>
<rect x="1511.5" y="90.5" width="4" height="4" fill="#fff" stroke="#f00" stroke-width="1"/>
<rect x="3.5" y="207.5" width="4" height="4" fill="#fff" stroke="#f00" stroke-width="1"/>
<rect x="1511.5" y="207.5" width="4" height="4" fill="#fff" stroke="#f00" stroke-width="1"/>
<rect x="2" y="2" width="1515" height="1" fill="#000"/>
<rect x="2" y="2" width="1" height="550" fill="#000"/>
<rect x="2" y="551" width="1515" height="1" fill="#000"/>
<rect x="1516" y="2" width="1" height="550" fill="#000"/>
<polygon points="6,10 15,10 10.5,15" fill="#000" shape-rendering="auto"/>
<rect x="1517" y="30" width="2" height="1" fill="#000"/>
<rect x="1517" y="80" width="2" height="1" fill="#000"/>
<rect x="1517" y="130" width="2" height="1" fill="#000"/>
<rect x="1517" y="180" width="2" height="1" fill="#000"/>
<rect x="1517" y="230" width="2" height="1" fill="#000"/>
<rect x="1517" y="280" width="2" height="1" fill="#000"/>
<rect x="1517" y="330" width="2" height="1" fill="#000"/>
<rect x="1517" y="380" width="2" height="1" fill="#000"/>
<rect x="1517" y="430" width="2" height="1" fill="#000"/>
<rect x="1517" y="480" width="2" height="1" fill="#000"/>
<rect x="1517" y="530" width="2" height="1" fill="#000"/>
<rect x="1518" y="48" width="42" height="14" fill="#000"/>
<rect x="1518" y="86" width="42" height="14" fill="#f00"/>
<rect x="1518" y="203" width="42" height="14" fill="#f00"/>
<g clip-path="url(#cs)">
<path d="M10 566h10v1h-10zM8 567h2v1h-2zM20 567h1v1h-1zM6 568h2v1h-2zM20 568h1v1h-1zM4 569h2v1h-2zM21 569h1v1h-1zM3 570h1v1h-1zM21 570h1v1h-1zM22 571h1v1h-1zM22 572h1v1h-1zM23 573h1v1h-1zM23 574h1v1h-1zM24 575h1v1h-1zM24 576h1v1h-1zM25 577h1v1h-1zM25 578h1v1h-1zM26 579h1v1h-1zM26 580h1v1h-1zM27 581h1v1h-1zM27 582h1v1h-1zM28 583h1v1h-1zM29 584h1v1h-1zM29 585h1v1h-1zM30 586h1v1h-1zM31 587h1v1h-1zM32 588h1v1h-1zM33 589h1v1h-1zM33 590h1v1h-1zM34 591h1v1h-1zM35 592h1v1h-1zM36 593h1v1h-1zM36 594h1v1h-1zM37 595h1v1h-1zM37 596h1v1h-1zM38 597h1v1h-1zM38 598h1v1h-1zM39 599h1v1h-1zM40 600h1v1h-1zM40 601h1v1h-1zM41 602h1v1h-1zM41 603h1v1h-1zM42 604h1v1h-1zM1450 604h2v1h-2zM42 605h1v1h-1zM1447 605h3v1h-3zM1452 605h2v1h-2zM43 606h1v1h-1zM1445 606h2v1h-2zM1454 606h2v1h-2zM44 607h1v1h-1zM1443 607h2v1h-2zM1456 607h2v1h-2zM44 608h1v1h-1zM1442 608h1v1h-1zM1458 608h2v1h-2zM45 609h1v1h-1zM1442 609h1v1h-1zM1460 609h1v1h-1zM45 610h1v1h-1zM1441 610h1v1h-1zM1461 610h1v1h-1zM46 611h1v1h-1zM1441 611h1v1h-1zM1462 611h1v1h-1zM47 612h1v1h-1zM1440 612h1v1h-1zM1463 612h2v1h-2zM47 613h1v1h-1zM1439 613h1v1h-1zM1465 613h1v1h-1zM48 614h1v1h-1zM1439 614h1v1h-1zM1466 614h1v1h-1zM49 615h1v1h-1zM1438 615h1v1h-1zM1467 615h1v1h-1zM49 616h1v1h-1zM1437 616h1v1h-1zM1468 616h1v1h-1zM50 617h1v1h-1zM1437 617h1v1h-1zM1469 617h2v1h-2zM50 618h1v1h-1zM1436 618h1v1h-1zM1471 618h1v1h-1zM51 619h1v1h-1zM1436 619h1v1h-1zM1472 619h1v1h-1zM1481 619h4v1h-4zM52 620h1v1h-1zM1435 620h1v1h-1zM1473 620h2v1h-2zM1477 620h4v1h-4zM1485 620h4v1h-4zM52 621h1v1h-1zM1433 621h2v1h-2zM1475 621h2v1h-2zM1489 621h4v1h-4zM53 622h1v1h-1zM1370 622h2v1h-2zM1432 622h1v1h-1zM1493 622h2v1h-2zM54 623h1v1h-1zM1367 623h3v1h-3zM1372 623h2v1h-2zM1431 623h1v1h-1zM1495 623h3v1h-3zM55 624h1v1h-1zM1365 624h2v1h-2zM1374 624h1v1h-1zM1429 624h2v1h-2zM1498 624h1v1h-1zM55 625h1v1h-1zM1363 625h2v1h-2zM1375 625h2v1h-2zM1428 625h1v1h-1zM56 626h1v1h-1zM1362 626h1v1h-1zM1377 626h2v1h-2zM1427 626h1v1h-1zM57 627h1v1h-1zM1361 627h1v1h-1zM1379 627h4v1h-4zM1425 627h2v1h-2zM58 628h1v1h-1zM1360 628h1v1h-1zM1383 628h22v1h-22zM1423 628h2v1h-2zM58 629h1v1h-1zM1359 629h1v1h-1zM1405 629h4v1h-4zM1422 629h1v1h-1zM59 630h1v1h-1zM1359 630h1v1h-1zM1409 630h6v1h-6zM1420 630h2v1h-2zM60 631h1v1h-1zM1358 631h1v1h-1zM1415 631h5v1h-5zM60 632h1v1h-1zM1357 632h1v1h-1zM61 633h1v1h-1zM1356 633h1v1h-1zM61 634h1v1h-1zM1355 634h1v1h-1zM62 635h1v1h-1zM1354 635h1v1h-1zM63 636h1v1h-1zM1353 636h1v1h-1zM63 637h1v1h-1zM1352 637h1v1h-1zM64 638h1v1h-1zM1351 638h1v1h-1zM65 639h1v1h-1zM1351 639h1v1h-1zM65 640h1v1h-1zM1350 640h1v1h-1zM66 641h1v1h-1zM1349 641h1v1h-1zM66 642h1v1h-1zM1348 642h1v1h-1zM67 643h1v1h-1zM1347 643h1v1h-1zM68 644h2v1h-2zM1346 644h1v1h-1zM70 645h1v1h-1zM1345 645h1v1h-1zM71 646h2v1h-2zM1343 646h2v1h-2zM73 647h2v1h-2zM1342 647h1v1h-1zM75 648h2v1h-2zM1341 648h1v1h-1zM77 649h2v1h-2zM1340 649h1v1h-1zM79 650h3v1h-3zM1339 650h1v1h-1zM82 651h3v1h-3zM1338 651h1v1h-1zM85 652h2v1h-2zM1338 652h1v1h-1zM87 653h3v1h-3zM1337 653h1v1h-1zM90 654h3v1h-3zM1337 654h1v1h-1zM93 655h4v1h-4zM1336 655h1v1h-1zM97 656h3v1h-3zM1336 656h1v1h-1zM100 657h1v1h-1zM1335 657h1v1h-1zM101 658h1v1h-1zM1335 658h1v1h-1zM102 659h1v1h-1zM1334 659h1v1h-1zM103 660h1v1h-1zM1334 660h1v1h-1zM104 661h1v1h-1zM1333 661h1v1h-1zM105 662h1v1h-1zM1333 662h1v1h-1zM106 663h1v1h-1zM743 663h8v1h-8zM759 663h14v1h-14zM818 663h2v1h-2zM1332 663h1v1h-1zM107 664h1v1h-1zM739 664h4v1h-4zM751 664h8v1h-8zM773 664h4v1h-4zM816 664h2v1h-2zM819 664h1v1h-1zM1332 664h1v1h-1zM108 665h1v1h-1zM738 665h1v1h-1zM777 665h3v1h-3zM814 665h2v1h-2zM820 665h1v1h-1zM1331 665h1v1h-1zM108 666h1v1h-1zM737 666h1v1h-1zM780 666h2v1h-2zM812 666h2v1h-2zM820 666h1v1h-1zM1330 666h1v1h-1zM109 667h1v1h-1zM735 667h2v1h-2zM782 667h1v1h-1zM811 667h1v1h-1zM821 667h1v1h-1zM1329 667h1v1h-1zM109 668h1v1h-1zM734 668h1v1h-1zM783 668h2v1h-2zM809 668h2v1h-2zM821 668h1v1h-1zM1327 668h2v1h-2zM110 669h1v1h-1zM733 669h1v1h-1zM785 669h2v1h-2zM807 669h2v1h-2zM822 669h1v1h-1zM1326 669h1v1h-1zM110 670h1v1h-1zM732 670h1v1h-1zM787 670h2v1h-2zM806 670h1v1h-1zM822 670h1v1h-1zM1325 670h1v1h-1zM111 671h1v1h-1zM730 671h2v1h-2zM789 671h4v1h-4zM804 671h2v1h-2zM823 671h1v1h-1zM1324 671h1v1h-1zM112 672h1v1h-1zM728 672h2v1h-2zM793 672h11v1h-11zM823 672h1v1h-1zM1323 672h1v1h-1zM112 673h1v1h-1zM726 673h2v1h-2zM823 673h1v1h-1zM1322 673h1v1h-1zM113 674h1v1h-1zM724 674h2v1h-2zM824 674h1v1h-1zM1322 674h1v1h-1zM113 675h1v1h-1zM721 675h3v1h-3zM824 675h1v1h-1zM1321 675h1v1h-1zM114 676h1v1h-1zM717 676h4v1h-4zM825 676h1v1h-1zM1320 676h1v1h-1zM114 677h1v1h-1zM698 677h3v1h-3zM714 677h3v1h-3zM825 677h1v1h-1zM1319 677h1v1h-1zM115 678h1v1h-1zM695 678h3v1h-3zM701 678h2v1h-2zM711 678h3v1h-3zM826 678h1v1h-1zM1319 678h1v1h-1zM116 679h1v1h-1zM693 679h2v1h-2zM703 679h3v1h-3zM709 679h2v1h-2zM826 679h1v1h-1zM1318 679h1v1h-1zM116 680h1v1h-1zM689 680h4v1h-4zM706 680h3v1h-3zM827 680h1v1h-1zM1317 680h1v1h-1zM117 681h1v1h-1zM685 681h4v1h-4zM827 681h1v1h-1zM1316 681h1v1h-1zM118 682h1v1h-1zM327 682h6v1h-6zM679 682h6v1h-6zM828 682h1v1h-1zM1316 682h1v1h-1zM119 683h1v1h-1zM315 683h12v1h-12zM333 683h4v1h-4zM675 683h4v1h-4zM828 683h1v1h-1zM1315 683h1v1h-1zM119 684h1v1h-1zM314 684h1v1h-1zM337 684h6v1h-6zM673 684h2v1h-2zM829 684h1v1h-1zM1314 684h1v1h-1zM120 685h1v1h-1zM313 685h1v1h-1zM343 685h6v1h-6zM671 685h2v1h-2zM830 685h1v1h-1zM1314 685h1v1h-1zM121 686h1v1h-1zM312 686h1v1h-1zM349 686h4v1h-4zM670 686h1v1h-1zM831 686h1v1h-1zM1313 686h1v1h-1zM122 687h1v1h-1zM311 687h1v1h-1zM353 687h3v1h-3zM611 687h1v1h-1zM668 687h2v1h-2zM831 687h1v1h-1zM1313 687h1v1h-1zM122 688h1v1h-1zM127 688h5v1h-5zM311 688h1v1h-1zM356 688h1v1h-1zM610 688h1v1h-1zM612 688h1v1h-1zM666 688h2v1h-2zM832 688h1v1h-1zM1312 688h1v1h-1zM123 689h4v1h-4zM132 689h1v1h-1zM310 689h1v1h-1zM357 689h1v1h-1zM609 689h1v1h-1zM613 689h2v1h-2zM664 689h2v1h-2zM833 689h1v1h-1zM1312 689h1v1h-1zM133 690h1v1h-1zM309 690h1v1h-1zM358 690h1v1h-1zM608 690h1v1h-1zM615 690h1v1h-1zM662 690h2v1h-2zM834 690h1v1h-1zM1311 690h1v1h-1zM134 691h1v1h-1zM308 691h1v1h-1zM359 691h2v1h-2zM607 691h1v1h-1zM616 691h1v1h-1zM660 691h2v1h-2zM834 691h1v1h-1zM1310 691h1v1h-1zM135 692h1v1h-1zM307 692h1v1h-1zM361 692h1v1h-1zM546 692h3v1h-3zM606 692h1v1h-1zM617 692h2v1h-2zM623 692h6v1h-6zM659 692h1v1h-1zM835 692h1v1h-1zM1310 692h1v1h-1zM135 693h1v1h-1zM306 693h1v1h-1zM362 693h1v1h-1zM544 693h2v1h-2zM549 693h4v1h-4zM559 693h6v1h-6zM605 693h1v1h-1zM619 693h4v1h-4zM629 693h4v1h-4zM657 693h2v1h-2zM835 693h1v1h-1zM1309 693h1v1h-1zM136 694h1v1h-1zM306 694h1v1h-1zM363 694h1v1h-1zM378 694h2v1h-2zM542 694h2v1h-2zM553 694h6v1h-6zM565 694h4v1h-4zM604 694h1v1h-1zM633 694h3v1h-3zM655 694h2v1h-2zM836 694h1v1h-1zM1309 694h1v1h-1zM137 695h1v1h-1zM305 695h1v1h-1zM364 695h2v1h-2zM376 695h2v1h-2zM380 695h1v1h-1zM540 695h2v1h-2zM569 695h4v1h-4zM603 695h1v1h-1zM636 695h2v1h-2zM654 695h1v1h-1zM836 695h1v1h-1zM1308 695h1v1h-1zM138 696h1v1h-1zM305 696h1v1h-1zM366 696h2v1h-2zM374 696h2v1h-2zM381 696h1v1h-1zM539 696h1v1h-1zM573 696h2v1h-2zM601 696h2v1h-2zM638 696h2v1h-2zM652 696h2v1h-2zM836 696h1v1h-1zM1308 696h1v1h-1zM139 697h1v1h-1zM304 697h1v1h-1zM368 697h2v1h-2zM372 697h2v1h-2zM382 697h1v1h-1zM538 697h1v1h-1zM575 697h3v1h-3zM600 697h1v1h-1zM640 697h2v1h-2zM647 697h5v1h-5zM836 697h1v1h-1zM1307 697h1v1h-1zM140 698h2v1h-2zM304 698h1v1h-1zM370 698h2v1h-2zM383 698h1v1h-1zM538 698h1v1h-1zM578 698h3v1h-3zM599 698h1v1h-1zM642 698h5v1h-5zM837 698h1v1h-1zM1307 698h1v1h-1zM142 699h1v1h-1zM303 699h1v1h-1zM383 699h1v1h-1zM537 699h1v1h-1zM581 699h2v1h-2zM597 699h2v1h-2zM837 699h1v1h-1zM1306 699h1v1h-1zM143 700h2v1h-2zM302 700h1v1h-1zM384 700h1v1h-1zM536 700h1v1h-1zM583 700h3v1h-3zM596 700h1v1h-1zM837 700h1v1h-1zM1306 700h1v1h-1zM145 701h2v1h-2zM302 701h1v1h-1zM385 701h1v1h-1zM535 701h1v1h-1zM586 701h10v1h-10zM837 701h1v1h-1zM1305 701h1v1h-1zM147 702h1v1h-1zM301 702h1v1h-1zM386 702h1v1h-1zM535 702h1v1h-1zM838 702h1v1h-1zM1305 702h1v1h-1zM148 703h1v1h-1zM301 703h1v1h-1zM387 703h1v1h-1zM534 703h1v1h-1zM838 703h1v1h-1zM1304 703h1v1h-1zM149 704h1v1h-1zM300 704h1v1h-1zM388 704h1v1h-1zM533 704h1v1h-1zM838 704h1v1h-1zM1304 704h1v1h-1zM150 705h1v1h-1zM300 705h1v1h-1zM389 705h1v1h-1zM532 705h1v1h-1zM839 705h1v1h-1zM1304 705h1v1h-1zM151 706h1v1h-1zM299 706h1v1h-1zM390 706h1v1h-1zM532 706h1v1h-1zM839 706h1v1h-1zM1303 706h1v1h-1zM152 707h1v1h-1zM299 707h1v1h-1zM391 707h1v1h-1zM531 707h1v1h-1zM839 707h1v1h-1zM1303 707h1v1h-1zM153 708h1v1h-1zM298 708h1v1h-1zM391 708h1v1h-1zM530 708h1v1h-1zM839 708h1v1h-1zM1302 708h1v1h-1zM154 709h1v1h-1zM298 709h1v1h-1zM392 709h1v1h-1zM530 709h1v1h-1zM840 709h1v1h-1zM1302 709h1v1h-1zM155 710h2v1h-2zM297 710h1v1h-1zM393 710h1v1h-1zM529 710h1v1h-1zM840 710h1v1h-1zM1302 710h1v1h-1zM157 711h2v1h-2zM297 711h1v1h-1zM394 711h1v1h-1zM528 711h1v1h-1zM840 711h1v1h-1zM1234 711h2v1h-2zM1301 711h1v1h-1zM159 712h3v1h-3zM296 712h1v1h-1zM395 712h1v1h-1zM527 712h1v1h-1zM841 712h1v1h-1zM1041 712h4v1h-4zM1232 712h2v1h-2zM1235 712h1v1h-1zM1301 712h1v1h-1zM162 713h11v1h-11zM296 713h1v1h-1zM396 713h1v1h-1zM527 713h1v1h-1zM841 713h1v1h-1zM1037 713h4v1h-4zM1045 713h4v1h-4zM1230 713h2v1h-2zM1236 713h1v1h-1zM1300 713h1v1h-1zM173 714h4v1h-4zM295 714h1v1h-1zM397 714h1v1h-1zM526 714h1v1h-1zM841 714h1v1h-1zM1035 714h2v1h-2zM1049 714h3v1h-3zM1228 714h2v1h-2zM1236 714h1v1h-1zM1300 714h1v1h-1zM177 715h3v1h-3zM295 715h1v1h-1zM398 715h1v1h-1zM525 715h1v1h-1zM841 715h1v1h-1zM1034 715h1v1h-1zM1052 715h1v1h-1zM1226 715h2v1h-2zM1237 715h1v1h-1zM1299 715h1v1h-1zM180 716h1v1h-1zM294 716h1v1h-1zM399 716h1v1h-1zM524 716h1v1h-1zM842 716h1v1h-1zM1034 716h1v1h-1zM1053 716h1v1h-1zM1224 716h2v1h-2zM1237 716h1v1h-1zM1299 716h1v1h-1zM181 717h1v1h-1zM294 717h1v1h-1zM400 717h1v1h-1zM524 717h1v1h-1zM842 717h1v1h-1zM1033 717h1v1h-1zM1054 717h1v1h-1zM1222 717h2v1h-2zM1238 717h1v1h-1zM1299 717h1v1h-1zM181 718h1v1h-1zM293 718h1v1h-1zM401 718h1v1h-1zM523 718h1v1h-1zM842 718h1v1h-1zM1032 718h1v1h-1zM1055 718h1v1h-1zM1220 718h2v1h-2zM1238 718h1v1h-1zM1298 718h1v1h-1zM182 719h1v1h-1zM293 719h1v1h-1zM402 719h1v1h-1zM523 719h1v1h-1zM842 719h1v1h-1zM1031 719h1v1h-1zM1055 719h1v1h-1zM1219 719h1v1h-1zM1239 719h1v1h-1zM1298 719h1v1h-1zM183 720h1v1h-1zM292 720h1v1h-1zM403 720h1v1h-1zM522 720h1v1h-1zM843 720h1v1h-1zM1031 720h1v1h-1zM1056 720h1v1h-1zM1218 720h1v1h-1zM1239 720h1v1h-1zM1297 720h1v1h-1zM184 721h1v1h-1zM292 721h1v1h-1zM404 721h2v1h-2zM522 721h1v1h-1zM843 721h1v1h-1zM1030 721h1v1h-1zM1057 721h1v1h-1zM1218 721h1v1h-1zM1240 721h1v1h-1zM1297 721h1v1h-1zM185 722h1v1h-1zM291 722h1v1h-1zM406 722h1v1h-1zM521 722h1v1h-1zM844 722h1v1h-1zM1029 722h1v1h-1zM1058 722h1v1h-1zM1217 722h1v1h-1zM1240 722h1v1h-1zM1297 722h1v1h-1zM185 723h1v1h-1zM290 723h1v1h-1zM407 723h2v1h-2zM521 723h1v1h-1zM844 723h1v1h-1zM1028 723h1v1h-1zM1059 723h1v1h-1zM1216 723h1v1h-1zM1241 723h1v1h-1zM1296 723h1v1h-1zM186 724h1v1h-1zM289 724h1v1h-1zM409 724h2v1h-2zM521 724h1v1h-1zM845 724h1v1h-1zM1028 724h1v1h-1zM1060 724h2v1h-2zM1216 724h1v1h-1zM1241 724h1v1h-1zM1296 724h1v1h-1zM187 725h1v1h-1zM287 725h2v1h-2zM411 725h1v1h-1zM520 725h1v1h-1zM845 725h1v1h-1zM1018 725h10v1h-10zM1062 725h1v1h-1zM1215 725h1v1h-1zM1242 725h1v1h-1zM1296 725h1v1h-1zM188 726h1v1h-1zM286 726h1v1h-1zM412 726h1v1h-1zM520 726h1v1h-1zM846 726h1v1h-1zM1016 726h2v1h-2zM1063 726h2v1h-2zM1214 726h1v1h-1zM1242 726h1v1h-1zM1295 726h1v1h-1zM188 727h1v1h-1zM285 727h1v1h-1zM413 727h1v1h-1zM519 727h1v1h-1zM846 727h1v1h-1zM1014 727h2v1h-2zM1065 727h2v1h-2zM1214 727h1v1h-1zM1243 727h1v1h-1zM1295 727h1v1h-1zM189 728h1v1h-1zM284 728h1v1h-1zM414 728h1v1h-1zM519 728h1v1h-1zM847 728h1v1h-1zM1012 728h2v1h-2zM1067 728h2v1h-2zM1213 728h1v1h-1zM1243 728h1v1h-1zM1294 728h1v1h-1zM189 729h1v1h-1zM283 729h1v1h-1zM415 729h1v1h-1zM519 729h1v1h-1zM848 729h1v1h-1zM1011 729h1v1h-1zM1069 729h2v1h-2zM1212 729h1v1h-1zM1243 729h1v1h-1zM1294 729h1v1h-1zM190 730h1v1h-1zM282 730h1v1h-1zM416 730h1v1h-1zM518 730h1v1h-1zM848 730h1v1h-1zM1009 730h2v1h-2zM1071 730h3v1h-3zM1130 730h3v1h-3zM1212 730h1v1h-1zM1244 730h1v1h-1zM1294 730h1v1h-1zM191 731h1v1h-1zM282 731h1v1h-1zM417 731h1v1h-1zM518 731h1v1h-1zM849 731h1v1h-1zM1007 731h2v1h-2zM1074 731h18v1h-18zM1128 731h2v1h-2zM1133 731h4v1h-4zM1211 731h1v1h-1zM1244 731h1v1h-1zM1293 731h1v1h-1zM191 732h1v1h-1zM281 732h1v1h-1zM418 732h1v1h-1zM517 732h1v1h-1zM849 732h1v1h-1zM1006 732h1v1h-1zM1092 732h2v1h-2zM1126 732h2v1h-2zM1137 732h3v1h-3zM1210 732h1v1h-1zM1245 732h1v1h-1zM1293 732h1v1h-1zM192 733h1v1h-1zM280 733h1v1h-1zM419 733h4v1h-4zM517 733h1v1h-1zM850 733h1v1h-1zM1004 733h2v1h-2zM1094 733h2v1h-2zM1124 733h2v1h-2zM1140 733h2v1h-2zM1209 733h1v1h-1zM1245 733h1v1h-1zM1293 733h1v1h-1zM193 734h1v1h-1zM279 734h1v1h-1zM423 734h5v1h-5zM517 734h1v1h-1zM850 734h1v1h-1zM1003 734h1v1h-1zM1096 734h2v1h-2zM1113 734h11v1h-11zM1142 734h1v1h-1zM1207 734h2v1h-2zM1246 734h1v1h-1zM1292 734h1v1h-1zM193 735h1v1h-1zM279 735h1v1h-1zM428 735h2v1h-2zM466 735h3v1h-3zM516 735h1v1h-1zM851 735h1v1h-1zM1002 735h1v1h-1zM1098 735h5v1h-5zM1109 735h4v1h-4zM1143 735h2v1h-2zM1167 735h13v1h-13zM1206 735h1v1h-1zM1246 735h1v1h-1zM1292 735h1v1h-1zM194 736h1v1h-1zM278 736h1v1h-1zM430 736h2v1h-2zM464 736h2v1h-2zM469 736h2v1h-2zM516 736h1v1h-1zM852 736h1v1h-1zM1001 736h1v1h-1zM1103 736h6v1h-6zM1145 736h2v1h-2zM1151 736h16v1h-16zM1180 736h2v1h-2zM1205 736h1v1h-1zM1247 736h1v1h-1zM1291 736h1v1h-1zM194 737h1v1h-1zM277 737h1v1h-1zM432 737h2v1h-2zM462 737h2v1h-2zM471 737h3v1h-3zM515 737h1v1h-1zM853 737h1v1h-1zM999 737h2v1h-2zM1147 737h4v1h-4zM1182 737h1v1h-1zM1204 737h1v1h-1zM1247 737h1v1h-1zM1291 737h1v1h-1zM195 738h1v1h-1zM276 738h1v1h-1zM434 738h2v1h-2zM460 738h2v1h-2zM474 738h3v1h-3zM514 738h2v1h-2zM854 738h1v1h-1zM998 738h1v1h-1zM1183 738h2v1h-2zM1202 738h2v1h-2zM1247 738h1v1h-1zM1291 738h1v1h-1zM196 739h1v1h-1zM276 739h1v1h-1zM436 739h2v1h-2zM459 739h1v1h-1zM477 739h4v1h-4zM512 739h2v1h-2zM855 739h1v1h-1zM997 739h1v1h-1zM1185 739h2v1h-2zM1200 739h2v1h-2zM1248 739h1v1h-1zM1290 739h1v1h-1zM196 740h1v1h-1zM273 740h3v1h-3zM438 740h1v1h-1zM458 740h1v1h-1zM481 740h6v1h-6zM510 740h2v1h-2zM855 740h1v1h-1zM996 740h1v1h-1zM1187 740h2v1h-2zM1198 740h2v1h-2zM1248 740h1v1h-1zM1290 740h1v1h-1zM197 741h1v1h-1zM269 741h4v1h-4zM439 741h2v1h-2zM457 741h1v1h-1zM487 741h6v1h-6zM508 741h2v1h-2zM856 741h1v1h-1zM986 741h10v1h-10zM1189 741h4v1h-4zM1196 741h2v1h-2zM1249 741h1v1h-1zM1290 741h1v1h-1zM198 742h1v1h-1zM263 742h6v1h-6zM441 742h2v1h-2zM455 742h2v1h-2zM493 742h4v1h-4zM503 742h5v1h-5zM857 742h1v1h-1zM983 742h3v1h-3zM1193 742h3v1h-3zM1249 742h1v1h-1zM1290 742h1v1h-1zM198 743h1v1h-1zM257 743h6v1h-6zM443 743h2v1h-2zM454 743h1v1h-1zM497 743h6v1h-6zM858 743h1v1h-1zM981 743h2v1h-2zM1250 743h1v1h-1zM1289 743h1v1h-1zM199 744h1v1h-1zM253 744h4v1h-4zM445 744h2v1h-2zM453 744h1v1h-1zM859 744h2v1h-2zM979 744h2v1h-2zM1250 744h1v1h-1zM1289 744h1v1h-1zM200 745h1v1h-1zM250 745h3v1h-3zM447 745h3v1h-3zM452 745h1v1h-1zM861 745h4v1h-4zM978 745h1v1h-1zM1251 745h1v1h-1zM1289 745h1v1h-1zM200 746h1v1h-1zM248 746h2v1h-2zM450 746h2v1h-2zM865 746h3v1h-3zM978 746h1v1h-1zM1251 746h1v1h-1zM1288 746h1v1h-1zM201 747h1v1h-1zM246 747h2v1h-2zM868 747h2v1h-2zM977 747h1v1h-1zM1252 747h1v1h-1zM1288 747h1v1h-1zM202 748h1v1h-1zM244 748h2v1h-2zM870 748h2v1h-2zM977 748h1v1h-1zM1253 748h1v1h-1zM1288 748h1v1h-1zM202 749h1v1h-1zM241 749h3v1h-3zM872 749h2v1h-2zM976 749h1v1h-1zM1254 749h1v1h-1zM1287 749h1v1h-1zM203 750h1v1h-1zM237 750h4v1h-4zM874 750h2v1h-2zM976 750h1v1h-1zM1255 750h1v1h-1zM1287 750h1v1h-1zM204 751h1v1h-1zM235 751h2v1h-2zM876 751h1v1h-1zM975 751h1v1h-1zM1256 751h1v1h-1zM1287 751h1v1h-1zM205 752h1v1h-1zM234 752h1v1h-1zM876 752h1v1h-1zM974 752h1v1h-1zM1257 752h1v1h-1zM1287 752h1v1h-1zM205 753h1v1h-1zM234 753h1v1h-1zM877 753h1v1h-1zM974 753h1v1h-1zM1258 753h1v1h-1zM1286 753h1v1h-1zM206 754h1v1h-1zM233 754h1v1h-1zM878 754h1v1h-1zM973 754h1v1h-1zM1259 754h1v1h-1zM1286 754h1v1h-1zM207 755h1v1h-1zM233 755h1v1h-1zM878 755h1v1h-1zM973 755h1v1h-1zM1260 755h1v1h-1zM1286 755h1v1h-1zM208 756h1v1h-1zM232 756h1v1h-1zM879 756h1v1h-1zM972 756h1v1h-1zM1261 756h1v1h-1zM1285 756h1v1h-1zM209 757h1v1h-1zM232 757h1v1h-1zM880 757h1v1h-1zM972 757h1v1h-1zM1261 757h1v1h-1zM1285 757h1v1h-1zM209 758h1v1h-1zM231 758h1v1h-1zM880 758h1v1h-1zM971 758h1v1h-1zM1262 758h1v1h-1zM1285 758h1v1h-1zM210 759h1v1h-1zM230 759h1v1h-1zM881 759h1v1h-1zM970 759h1v1h-1zM1263 759h1v1h-1zM1284 759h1v1h-1zM211 760h4v1h-4zM230 760h1v1h-1zM882 760h1v1h-1zM970 760h1v1h-1zM1264 760h1v1h-1zM1284 760h1v1h-1zM215 761h5v1h-5zM229 761h1v1h-1zM882 761h1v1h-1zM969 761h1v1h-1zM1265 761h1v1h-1zM1284 761h1v1h-1zM220 762h2v1h-2zM229 762h1v1h-1zM883 762h1v1h-1zM969 762h1v1h-1zM1265 762h1v1h-1zM1284 762h1v1h-1zM222 763h2v1h-2zM228 763h1v1h-1zM884 763h1v1h-1zM968 763h1v1h-1zM1266 763h1v1h-1zM1283 763h1v1h-1zM224 764h2v1h-2zM228 764h1v1h-1zM885 764h1v1h-1zM967 764h1v1h-1zM1267 764h17v1h-17zM226 765h2v1h-2zM886 765h1v1h-1zM967 765h1v1h-1zM887 766h1v1h-1zM966 766h1v1h-1zM887 767h1v1h-1zM965 767h1v1h-1zM888 768h1v1h-1zM965 768h1v1h-1zM889 769h1v1h-1zM964 769h1v1h-1zM890 770h1v1h-1zM964 770h1v1h-1zM891 771h2v1h-2zM963 771h1v1h-1zM893 772h2v1h-2zM962 772h1v1h-1zM895 773h3v1h-3zM962 773h1v1h-1zM898 774h2v1h-2zM961 774h1v1h-1zM900 775h2v1h-2zM961 775h1v1h-1zM902 776h1v1h-1zM960 776h1v1h-1zM903 777h2v1h-2zM960 777h1v1h-1zM905 778h2v1h-2zM959 778h1v1h-1zM907 779h1v1h-1zM958 779h1v1h-1zM908 780h1v1h-1zM958 780h1v1h-1zM909 781h1v1h-1zM957 781h1v1h-1zM909 782h1v1h-1zM957 782h1v1h-1zM910 783h1v1h-1zM956 783h1v1h-1zM911 784h1v1h-1zM956 784h1v1h-1zM912 785h1v1h-1zM955 785h1v1h-1zM913 786h1v1h-1zM955 786h1v1h-1zM913 787h1v1h-1zM954 787h1v1h-1zM914 788h1v1h-1zM954 788h1v1h-1zM915 789h1v1h-1zM953 789h1v1h-1zM916 790h1v1h-1zM953 790h1v1h-1zM916 791h1v1h-1zM952 791h1v1h-1zM917 792h1v1h-1zM952 792h1v1h-1zM917 793h1v1h-1zM952 793h1v1h-1zM918 794h1v1h-1zM951 794h1v1h-1zM918 795h1v1h-1zM951 795h1v1h-1zM919 796h1v1h-1zM950 796h1v1h-1zM920 797h1v1h-1zM950 797h1v1h-1zM920 798h1v1h-1zM950 798h1v1h-1zM921 799h1v1h-1zM949 799h1v1h-1zM921 800h1v1h-1zM949 800h1v1h-1zM922 801h1v1h-1zM948 801h1v1h-1zM922 802h1v1h-1zM948 802h1v1h-1zM923 803h1v1h-1zM947 803h1v1h-1zM924 804h1v1h-1zM947 804h1v1h-1zM925 805h1v1h-1zM945 805h2v1h-2zM925 806h1v1h-1zM943 806h2v1h-2zM926 807h1v1h-1zM942 807h1v1h-1zM927 808h1v1h-1zM940 808h2v1h-2zM928 809h1v1h-1zM938 809h2v1h-2zM929 810h1v1h-1zM936 810h2v1h-2zM929 811h1v1h-1zM934 811h2v1h-2zM930 812h1v1h-1zM932 812h2v1h-2zM931 813h1v1h-1z" fill="#c0c0c0"/>
<rect x="3" y="571" width="1" height="184" fill="#000080"/>
<rect x="11" y="567" width="1" height="188" fill="#000080"/>
<rect x="19" y="567" width="1" height="188" fill="#000080"/>
<rect x="27" y="583" width="1" height="172" fill="#000080"/>
<rect x="35" y="593" width="1" height="162" fill="#000080"/>
<rect x="43" y="607" width="1" height="148" fill="#000080"/>
<rect x="51" y="620" width="1" height="135" fill="#000080"/>
<rect x="59" y="631" width="1" height="124" fill="#000080"/>
<rect x="67" y="644" width="1" height="111" fill="#000080"/>
<rect x="75" y="649" width="1" height="106" fill="#000080"/>
<rect x="83" y="652" width="1" height="103" fill="#000080"/>
<rect x="91" y="655" width="1" height="100" fill="#000080"/>
<rect x="99" y="657" width="1" height="98" fill="#000080"/>
<rect x="107" y="665" width="1" height="90" fill="#000080"/>
<rect x="115" y="679" width="1" height="76" fill="#000080"/>
<rect x="123" y="690" width="1" height="65" fill="#000080"/>
<rect x="131" y="689" width="1" height="66" fill="#000080"/>
<rect x="139" y="698" width="1" height="57" fill="#000080"/>
<rect x="147" y="703" width="1" height="52" fill="#000080"/>
<rect x="155" y="711" width="1" height="44" fill="#000080"/>
<rect x="163" y="714" width="1" height="41" fill="#000080"/>
<rect x="171" y="714" width="1" height="41" fill="#000080"/>
<rect x="179" y="716" width="1" height="39" fill="#000080"/>
<rect x="187" y="726" width="1" height="29" fill="#000080"/>
<rect x="195" y="739" width="1" height="16" fill="#000080"/>
<rect x="203" y="751" width="1" height="4" fill="#000080"/>
<rect x="211" y="754" width="1" height="6" fill="#000080"/>
<rect x="219" y="754" width="1" height="7" fill="#000080"/>
<rect x="227" y="754" width="1" height="11" fill="#000080"/>
<rect x="235" y="752" width="1" height="3" fill="#000080"/>
<rect x="243" y="750" width="1" height="5" fill="#000080"/>
<rect x="251" y="746" width="1" height="9" fill="#000080"/>
<rect x="259" y="744" width="1" height="11" fill="#000080"/>
<rect x="267" y="743" width="1" height="12" fill="#000080"/>
<rect x="275" y="741" width="1" height="14" fill="#000080"/>
<rect x="283" y="730" width="1" height="25" fill="#000080"/>
<rect x="291" y="723" width="1" height="32" fill="#000080"/>
<rect x="299" y="707" width="1" height="48" fill="#000080"/>
<rect x="307" y="693" width="1" height="62" fill="#000080"/>
<rect x="315" y="684" width="1" height="71" fill="#000080"/>
<rect x="323" y="684" width="1" height="71" fill="#000080"/>
<rect x="331" y="683" width="1" height="72" fill="#000080"/>
<rect x="339" y="685" width="1" height="70" fill="#000080"/>
<rect x="347" y="686" width="1" height="69" fill="#000080"/>
<rect x="355" y="688" width="1" height="67" fill="#000080"/>
<rect x="363" y="695" width="1" height="60" fill="#000080"/>
<rect x="371" y="699" width="1" height="56" fill="#000080"/>
<rect x="379" y="695" width="1" height="60" fill="#000080"/>
<rect x="387" y="704" width="1" height="51" fill="#000080"/>
<rect x="395" y="713" width="1" height="42" fill="#000080"/>
<rect x="403" y="721" width="1" height="34" fill="#000080"/>
<rect x="411" y="726" width="1" height="29" fill="#000080"/>
<rect x="419" y="734" width="1" height="21" fill="#000080"/>
<rect x="427" y="735" width="1" height="20" fill="#000080"/>
<rect x="435" y="739" width="1" height="16" fill="#000080"/>
<rect x="443" y="744" width="1" height="11" fill="#000080"/>
<rect x="451" y="747" width="1" height="8" fill="#000080"/>
<rect x="459" y="740" width="1" height="15" fill="#000080"/>
<rect x="467" y="736" width="1" height="19" fill="#000080"/>
<rect x="475" y="739" width="1" height="16" fill="#000080"/>
<rect x="483" y="741" width="1" height="14" fill="#000080"/>
<rect x="491" y="742" width="1" height="13" fill="#000080"/>
<rect x="499" y="744" width="1" height="11" fill="#000080"/>
<rect x="507" y="743" width="1" height="12" fill="#000080"/>
<rect x="515" y="739" width="1" height="16" fill="#000080"/>
<rect x="523" y="719" width="1" height="36" fill="#000080"/>
<rect x="531" y="708" width="1" height="47" fill="#000080"/>
<rect x="539" y="697" width="1" height="58" fill="#000080"/>
<rect x="547" y="693" width="1" height="62" fill="#000080"/>
<rect x="555" y="695" width="1" height="60" fill="#000080"/>
<rect x="563" y="694" width="1" height="61" fill="#000080"/>
<rect x="571" y="696" width="1" height="59" fill="#000080"/>
<rect x="579" y="699" width="1" height="56" fill="#000080"/>
<rect x="587" y="702" width="1" height="53" fill="#000080"/>
<rect x="595" y="702" width="1" height="53" fill="#000080"/>
<rect x="603" y="696" width="1" height="59" fill="#000080"/>
<rect x="611" y="688" width="1" height="67" fill="#000080"/>
<rect x="619" y="694" width="1" height="61" fill="#000080"/>
<rect x="627" y="693" width="1" height="62" fill="#000080"/>
<rect x="635" y="695" width="1" height="60" fill="#000080"/>
<rect x="643" y="699" width="1" height="56" fill="#000080"/>
<rect x="651" y="698" width="1" height="57" fill="#000080"/>
<rect x="659" y="693" width="1" height="62" fill="#000080"/>
<rect x="667" y="689" width="1" height="66" fill="#000080"/>
<rect x="675" y="684" width="1" height="71" fill="#000080"/>
<rect x="683" y="683" width="1" height="72" fill="#000080"/>
<rect x="691" y="681" width="1" height="74" fill="#000080"/>
<rect x="699" y="678" width="1" height="77" fill="#000080"/>
<rect x="707" y="681" width="1" height="74" fill="#000080"/>
<rect x="715" y="678" width="1" height="77" fill="#000080"/>
<rect x="723" y="676" width="1" height="79" fill="#000080"/>
<rect x="731" y="672" width="1" height="83" fill="#000080"/>
<rect x="739" y="665" width="1" height="90" fill="#000080"/>
<rect x="747" y="664" width="1" height="91" fill="#000080"/>
<rect x="755" y="665" width="1" height="90" fill="#000080"/>
<rect x="763" y="664" width="1" height="91" fill="#000080"/>
<rect x="771" y="664" width="1" height="91" fill="#000080"/>
<rect x="779" y="666" width="1" height="89" fill="#000080"/>
<rect x="787" y="671" width="1" height="84" fill="#000080"/>
<rect x="795" y="673" width="1" height="82" fill="#000080"/>
<rect x="803" y="673" width="1" height="82" fill="#000080"/>
<rect x="811" y="668" width="1" height="87" fill="#000080"/>
<rect x="819" y="664" width="1" height="91" fill="#000080"/>
<rect x="827" y="682" width="1" height="73" fill="#000080"/>
<rect x="835" y="693" width="1" height="62" fill="#000080"/>
<rect x="843" y="722" width="1" height="33" fill="#000080"/>
<rect x="851" y="736" width="1" height="19" fill="#000080"/>
<rect x="859" y="745" width="1" height="10" fill="#000080"/>
<rect x="867" y="747" width="1" height="8" fill="#000080"/>
<rect x="875" y="751" width="1" height="4" fill="#000080"/>
<rect x="883" y="754" width="1" height="8" fill="#000080"/>
<rect x="891" y="754" width="1" height="17" fill="#000080"/>
<rect x="899" y="754" width="1" height="20" fill="#000080"/>
<rect x="907" y="754" width="1" height="25" fill="#000080"/>
<rect x="915" y="754" width="1" height="35" fill="#000080"/>
<rect x="923" y="754" width="1" height="49" fill="#000080"/>
<rect x="931" y="754" width="1" height="59" fill="#000080"/>
<rect x="939" y="754" width="1" height="55" fill="#000080"/>
<rect x="947" y="754" width="1" height="50" fill="#000080"/>
<rect x="955" y="754" width="1" height="31" fill="#000080"/>
<rect x="963" y="754" width="1" height="17" fill="#000080"/>
<rect x="971" y="754" width="1" height="4" fill="#000080"/>
<rect x="979" y="745" width="1" height="10" fill="#000080"/>
<rect x="987" y="742" width="1" height="13" fill="#000080"/>
<rect x="995" y="742" width="1" height="13" fill="#000080"/>
<rect x="1003" y="735" width="1" height="20" fill="#000080"/>
<rect x="1011" y="730" width="1" height="25" fill="#000080"/>
<rect x="1019" y="726" width="1" height="29" fill="#000080"/>
<rect x="1027" y="726" width="1" height="29" fill="#000080"/>
<rect x="1035" y="715" width="1" height="40" fill="#000080"/>
<rect x="1043" y="713" width="1" height="42" fill="#000080"/>
<rect x="1051" y="715" width="1" height="40" fill="#000080"/>
<rect x="1059" y="724" width="1" height="31" fill="#000080"/>
<rect x="1067" y="729" width="1" height="26" fill="#000080"/>
<rect x="1075" y="732" width="1" height="23" fill="#000080"/>
<rect x="1083" y="732" width="1" height="23" fill="#000080"/>
<rect x="1091" y="732" width="1" height="23" fill="#000080"/>
<rect x="1099" y="736" width="1" height="19" fill="#000080"/>
<rect x="1107" y="737" width="1" height="18" fill="#000080"/>
<rect x="1115" y="735" width="1" height="20" fill="#000080"/>
<rect x="1123" y="735" width="1" height="20" fill="#000080"/>
<rect x="1131" y="731" width="1" height="24" fill="#000080"/>
<rect x="1139" y="733" width="1" height="22" fill="#000080"/>
<rect x="1147" y="738" width="1" height="17" fill="#000080"/>
<rect x="1155" y="737" width="1" height="18" fill="#000080"/>
<rect x="1163" y="737" width="1" height="18" fill="#000080"/>
<rect x="1171" y="736" width="1" height="19" fill="#000080"/>
<rect x="1179" y="736" width="1" height="19" fill="#000080"/>
<rect x="1187" y="741" width="1" height="14" fill="#000080"/>
<rect x="1195" y="743" width="1" height="12" fill="#000080"/>
<rect x="1203" y="739" width="1" height="16" fill="#000080"/>
<rect x="1211" y="732" width="1" height="23" fill="#000080"/>
<rect x="1219" y="720" width="1" height="35" fill="#000080"/>
<rect x="1227" y="716" width="1" height="39" fill="#000080"/>
<rect x="1235" y="712" width="1" height="43" fill="#000080"/>
<rect x="1243" y="729" width="1" height="26" fill="#000080"/>
<rect x="1251" y="747" width="1" height="8" fill="#000080"/>
<rect x="1267" y="754" width="1" height="10" fill="#000080"/>
<rect x="1275" y="754" width="1" height="10" fill="#000080"/>
<rect x="1283" y="754" width="1" height="10" fill="#000080"/>
<rect x="1291" y="738" width="1" height="17" fill="#000080"/>
<rect x="1299" y="717" width="1" height="38" fill="#000080"/>
<rect x="1307" y="698" width="1" height="57" fill="#000080"/>
<rect x="1315" y="684" width="1" height="71" fill="#000080"/>
<rect x="1323" y="673" width="1" height="82" fill="#000080"/>
<rect x="1331" y="666" width="1" height="89" fill="#000080"/>
<rect x="1339" y="651" width="1" height="104" fill="#000080"/>
<rect x="1347" y="644" width="1" height="111" fill="#000080"/>
<rect x="1355" y="635" width="1" height="120" fill="#000080"/>
<rect x="1363" y="626" width="1" height="129" fill="#000080"/>
<rect x="1371" y="623" width="1" height="132" fill="#000080"/>
<rect x="1379" y="628" width="1" height="127" fill="#000080"/>
<rect x="1387" y="629" width="1" height="126" fill="#000080"/>
<rect x="1395" y="629" width="1" height="126" fill="#000080"/>
<rect x="1403" y="629" width="1" height="126" fill="#000080"/>
<rect x="1411" y="631" width="1" height="124" fill="#000080"/>
<rect x="1419" y="632" width="1" height="123" fill="#000080"/>
<rect x="1427" y="627" width="1" height="128" fill="#000080"/>
<rect x="1435" y="621" width="1" height="134" fill="#000080"/>
<rect x="1443" y="608" width="1" height="147" fill="#000080"/>
<rect x="1451" y="605" width="1" height="150" fill="#000080"/>
<rect x="1459" y="609" width="1" height="146" fill="#000080"/>
<rect x="1467" y="616" width="1" height="139" fill="#000080"/>
<rect x="1475" y="622" width="1" height="133" fill="#000080"/>
<rect x="1483" y="620" width="1" height="135" fill="#000080"/>
<rect x="1491" y="622" width="1" height="133" fill="#000080"/>
<rect x="1499" y="625" width="1" height="130" fill="#000080"/>
<path d="M31 581h8v1h-8zM27 582h4v1h-4zM39 582h6v1h-6zM25 583h2v1h-2zM45 583h2v1h-2zM23 584h2v1h-2zM47 584h3v1h-3zM22 585h1v1h-1zM50 585h2v1h-2zM20 586h2v1h-2zM52 586h2v1h-2zM19 587h1v1h-1zM54 587h1v1h-1zM18 588h1v1h-1zM55 588h2v1h-2zM17 589h1v1h-1zM57 589h2v1h-2zM17 590h1v1h-1zM59 590h1v1h-1zM16 591h1v1h-1zM60 591h1v1h-1zM15 592h1v1h-1zM61 592h1v1h-1zM14 593h1v1h-1zM62 593h1v1h-1zM13 594h1v1h-1zM63 594h2v1h-2zM13 595h1v1h-1zM65 595h1v1h-1zM12 596h1v1h-1zM66 596h1v1h-1zM11 597h1v1h-1zM67 597h1v1h-1zM10 598h1v1h-1zM68 598h1v1h-1zM9 599h1v1h-1zM69 599h1v1h-1zM8 600h1v1h-1zM70 600h1v1h-1zM7 601h1v1h-1zM71 601h1v1h-1zM7 602h1v1h-1zM71 602h1v1h-1zM6 603h1v1h-1zM72 603h1v1h-1zM5 604h1v1h-1zM73 604h1v1h-1zM4 605h1v1h-1zM74 605h1v1h-1zM3 606h1v1h-1zM75 606h1v1h-1zM76 607h1v1h-1zM77 608h1v1h-1zM78 609h1v1h-1zM79 610h1v1h-1zM79 611h1v1h-1zM80 612h1v1h-1zM81 613h1v1h-1zM82 614h1v1h-1zM83 615h1v1h-1zM1495 615h4v1h-4zM84 616h1v1h-1zM1487 616h8v1h-8zM85 617h1v1h-1zM1479 617h8v1h-8zM85 618h1v1h-1zM1471 618h8v1h-8zM86 619h1v1h-1zM1463 619h8v1h-8zM87 620h1v1h-1zM1457 620h6v1h-6zM88 621h1v1h-1zM1453 621h4v1h-4zM89 622h1v1h-1zM1450 622h3v1h-3zM89 623h1v1h-1zM1447 623h3v1h-3zM90 624h1v1h-1zM1445 624h2v1h-2zM91 625h1v1h-1zM1441 625h4v1h-4zM92 626h1v1h-1zM1437 626h4v1h-4zM93 627h1v1h-1zM1423 627h14v1h-14zM94 628h1v1h-1zM1415 628h8v1h-8zM95 629h1v1h-1zM1410 629h5v1h-5zM96 630h1v1h-1zM1407 630h3v1h-3zM97 631h1v1h-1zM1405 631h2v1h-2zM98 632h1v1h-1zM1402 632h3v1h-3zM99 633h1v1h-1zM1400 633h2v1h-2zM100 634h1v1h-1zM1398 634h2v1h-2zM101 635h1v1h-1zM1396 635h2v1h-2zM102 636h1v1h-1zM1395 636h1v1h-1zM103 637h1v1h-1zM1393 637h2v1h-2zM104 638h1v1h-1zM1391 638h2v1h-2zM105 639h1v1h-1zM1390 639h1v1h-1zM106 640h1v1h-1zM1388 640h2v1h-2zM107 641h1v1h-1zM1387 641h1v1h-1zM108 642h1v1h-1zM1385 642h2v1h-2zM109 643h1v1h-1zM1384 643h1v1h-1zM110 644h1v1h-1zM1383 644h1v1h-1zM111 645h1v1h-1zM1381 645h2v1h-2zM112 646h1v1h-1zM1380 646h1v1h-1zM113 647h1v1h-1zM1379 647h1v1h-1zM114 648h1v1h-1zM1378 648h1v1h-1zM115 649h1v1h-1zM1377 649h1v1h-1zM116 650h1v1h-1zM1376 650h1v1h-1zM117 651h1v1h-1zM1375 651h1v1h-1zM118 652h1v1h-1zM1374 652h1v1h-1zM119 653h1v1h-1zM1373 653h1v1h-1zM120 654h1v1h-1zM1372 654h1v1h-1zM121 655h1v1h-1zM1371 655h1v1h-1zM122 656h1v1h-1zM1370 656h1v1h-1zM123 657h1v1h-1zM1369 657h1v1h-1zM124 658h1v1h-1zM1369 658h1v1h-1zM125 659h2v1h-2zM1368 659h1v1h-1zM127 660h1v1h-1zM1367 660h1v1h-1zM128 661h1v1h-1zM1366 661h1v1h-1zM129 662h2v1h-2zM1365 662h1v1h-1zM131 663h1v1h-1zM1365 663h1v1h-1zM132 664h1v1h-1zM1364 664h1v1h-1zM133 665h2v1h-2zM1363 665h1v1h-1zM135 666h1v1h-1zM783 666h32v1h-32zM1362 666h1v1h-1zM136 667h1v1h-1zM777 667h6v1h-6zM815 667h8v1h-8zM1362 667h1v1h-1zM137 668h2v1h-2zM773 668h4v1h-4zM823 668h5v1h-5zM1361 668h1v1h-1zM139 669h1v1h-1zM767 669h6v1h-6zM828 669h2v1h-2zM1360 669h1v1h-1zM140 670h1v1h-1zM761 670h6v1h-6zM830 670h2v1h-2zM1360 670h1v1h-1zM141 671h2v1h-2zM757 671h4v1h-4zM832 671h2v1h-2zM1359 671h1v1h-1zM143 672h1v1h-1zM753 672h4v1h-4zM834 672h2v1h-2zM1358 672h1v1h-1zM144 673h1v1h-1zM749 673h4v1h-4zM836 673h1v1h-1zM1358 673h1v1h-1zM145 674h2v1h-2zM745 674h4v1h-4zM837 674h2v1h-2zM1357 674h1v1h-1zM147 675h1v1h-1zM741 675h4v1h-4zM839 675h1v1h-1zM1356 675h1v1h-1zM148 676h1v1h-1zM738 676h3v1h-3zM840 676h1v1h-1zM1356 676h1v1h-1zM149 677h1v1h-1zM735 677h3v1h-3zM841 677h2v1h-2zM1355 677h1v1h-1zM150 678h1v1h-1zM733 678h2v1h-2zM843 678h1v1h-1zM1354 678h1v1h-1zM151 679h2v1h-2zM729 679h4v1h-4zM844 679h1v1h-1zM1354 679h1v1h-1zM153 680h1v1h-1zM725 680h4v1h-4zM845 680h1v1h-1zM1353 680h1v1h-1zM154 681h1v1h-1zM722 681h3v1h-3zM846 681h1v1h-1zM1353 681h1v1h-1zM155 682h1v1h-1zM719 682h3v1h-3zM847 682h1v1h-1zM1352 682h1v1h-1zM156 683h1v1h-1zM717 683h2v1h-2zM848 683h1v1h-1zM1352 683h1v1h-1zM157 684h2v1h-2zM713 684h4v1h-4zM849 684h1v1h-1zM1351 684h1v1h-1zM159 685h1v1h-1zM709 685h4v1h-4zM850 685h1v1h-1zM1351 685h1v1h-1zM160 686h1v1h-1zM705 686h4v1h-4zM851 686h1v1h-1zM1350 686h1v1h-1zM161 687h2v1h-2zM701 687h4v1h-4zM852 687h1v1h-1zM1350 687h1v1h-1zM163 688h1v1h-1zM362 688h19v1h-19zM697 688h4v1h-4zM853 688h1v1h-1zM1349 688h1v1h-1zM164 689h1v1h-1zM360 689h2v1h-2zM381 689h4v1h-4zM693 689h4v1h-4zM854 689h1v1h-1zM1349 689h1v1h-1zM165 690h1v1h-1zM358 690h2v1h-2zM385 690h4v1h-4zM687 690h6v1h-6zM855 690h1v1h-1zM1348 690h1v1h-1zM166 691h1v1h-1zM356 691h2v1h-2zM389 691h2v1h-2zM679 691h8v1h-8zM856 691h1v1h-1zM1348 691h1v1h-1zM167 692h2v1h-2zM354 692h2v1h-2zM391 692h3v1h-3zM671 692h8v1h-8zM857 692h1v1h-1zM1347 692h1v1h-1zM169 693h1v1h-1zM352 693h2v1h-2zM394 693h2v1h-2zM665 693h6v1h-6zM858 693h1v1h-1zM1346 693h1v1h-1zM170 694h1v1h-1zM350 694h2v1h-2zM396 694h2v1h-2zM661 694h4v1h-4zM859 694h1v1h-1zM1346 694h1v1h-1zM171 695h1v1h-1zM348 695h2v1h-2zM398 695h2v1h-2zM607 695h32v1h-32zM647 695h14v1h-14zM860 695h1v1h-1zM1345 695h1v1h-1zM172 696h1v1h-1zM347 696h1v1h-1zM400 696h2v1h-2zM601 696h6v1h-6zM639 696h8v1h-8zM861 696h1v1h-1zM1345 696h1v1h-1zM173 697h2v1h-2zM345 697h2v1h-2zM402 697h2v1h-2zM597 697h4v1h-4zM862 697h1v1h-1zM1344 697h1v1h-1zM175 698h1v1h-1zM344 698h1v1h-1zM404 698h2v1h-2zM591 698h6v1h-6zM863 698h1v1h-1zM1343 698h1v1h-1zM176 699h1v1h-1zM343 699h1v1h-1zM406 699h1v1h-1zM587 699h4v1h-4zM863 699h1v1h-1zM1343 699h1v1h-1zM177 700h2v1h-2zM341 700h2v1h-2zM407 700h2v1h-2zM585 700h2v1h-2zM864 700h1v1h-1zM1342 700h1v1h-1zM179 701h1v1h-1zM340 701h1v1h-1zM409 701h2v1h-2zM583 701h2v1h-2zM865 701h1v1h-1zM1341 701h1v1h-1zM180 702h2v1h-2zM339 702h1v1h-1zM411 702h1v1h-1zM582 702h1v1h-1zM866 702h1v1h-1zM1341 702h1v1h-1zM182 703h1v1h-1zM338 703h1v1h-1zM412 703h2v1h-2zM580 703h2v1h-2zM867 703h1v1h-1zM1340 703h1v1h-1zM183 704h2v1h-2zM337 704h1v1h-1zM414 704h1v1h-1zM578 704h2v1h-2zM868 704h1v1h-1zM1340 704h1v1h-1zM185 705h2v1h-2zM335 705h2v1h-2zM415 705h2v1h-2zM576 705h2v1h-2zM869 705h1v1h-1zM1339 705h1v1h-1zM187 706h1v1h-1zM334 706h1v1h-1zM417 706h2v1h-2zM574 706h2v1h-2zM870 706h1v1h-1zM1338 706h1v1h-1zM188 707h2v1h-2zM333 707h1v1h-1zM419 707h1v1h-1zM572 707h2v1h-2zM871 707h1v1h-1zM1338 707h1v1h-1zM190 708h1v1h-1zM332 708h1v1h-1zM420 708h1v1h-1zM571 708h1v1h-1zM872 708h1v1h-1zM1337 708h1v1h-1zM191 709h2v1h-2zM331 709h1v1h-1zM421 709h2v1h-2zM569 709h2v1h-2zM873 709h1v1h-1zM1337 709h1v1h-1zM193 710h2v1h-2zM330 710h1v1h-1zM423 710h1v1h-1zM568 710h1v1h-1zM874 710h1v1h-1zM1336 710h1v1h-1zM195 711h1v1h-1zM329 711h1v1h-1zM424 711h1v1h-1zM567 711h1v1h-1zM875 711h1v1h-1zM1335 711h1v1h-1zM196 712h1v1h-1zM327 712h2v1h-2zM425 712h2v1h-2zM565 712h2v1h-2zM876 712h1v1h-1zM1335 712h1v1h-1zM197 713h1v1h-1zM326 713h1v1h-1zM427 713h1v1h-1zM564 713h1v1h-1zM876 713h1v1h-1zM1334 713h1v1h-1zM198 714h1v1h-1zM325 714h1v1h-1zM428 714h2v1h-2zM563 714h1v1h-1zM877 714h1v1h-1zM1333 714h1v1h-1zM199 715h2v1h-2zM324 715h1v1h-1zM430 715h2v1h-2zM561 715h2v1h-2zM878 715h1v1h-1zM1333 715h1v1h-1zM201 716h1v1h-1zM323 716h1v1h-1zM432 716h2v1h-2zM559 716h2v1h-2zM879 716h1v1h-1zM1332 716h1v1h-1zM202 717h1v1h-1zM321 717h2v1h-2zM434 717h2v1h-2zM558 717h1v1h-1zM879 717h1v1h-1zM1332 717h1v1h-1zM203 718h1v1h-1zM320 718h1v1h-1zM436 718h2v1h-2zM556 718h2v1h-2zM880 718h1v1h-1zM1331 718h1v1h-1zM204 719h1v1h-1zM319 719h1v1h-1zM438 719h1v1h-1zM555 719h1v1h-1zM881 719h1v1h-1zM1330 719h1v1h-1zM205 720h1v1h-1zM317 720h2v1h-2zM439 720h2v1h-2zM553 720h2v1h-2zM882 720h1v1h-1zM1329 720h1v1h-1zM206 721h1v1h-1zM316 721h1v1h-1zM441 721h2v1h-2zM551 721h2v1h-2zM882 721h1v1h-1zM1329 721h1v1h-1zM207 722h2v1h-2zM315 722h1v1h-1zM443 722h1v1h-1zM550 722h1v1h-1zM883 722h1v1h-1zM1071 722h16v1h-16zM1328 722h1v1h-1zM209 723h1v1h-1zM314 723h1v1h-1zM444 723h1v1h-1zM548 723h2v1h-2zM884 723h1v1h-1zM1063 723h8v1h-8zM1087 723h8v1h-8zM1327 723h1v1h-1zM210 724h1v1h-1zM313 724h1v1h-1zM445 724h2v1h-2zM547 724h1v1h-1zM884 724h1v1h-1zM1057 724h6v1h-6zM1095 724h6v1h-6zM1326 724h1v1h-1zM211 725h1v1h-1zM312 725h1v1h-1zM447 725h1v1h-1zM545 725h2v1h-2zM885 725h1v1h-1zM1053 725h4v1h-4zM1101 725h2v1h-2zM1325 725h1v1h-1zM212 726h1v1h-1zM311 726h1v1h-1zM448 726h1v1h-1zM543 726h2v1h-2zM886 726h1v1h-1zM1050 726h3v1h-3zM1103 726h3v1h-3zM1325 726h1v1h-1zM213 727h1v1h-1zM310 727h1v1h-1zM449 727h2v1h-2zM542 727h1v1h-1zM886 727h1v1h-1zM1047 727h3v1h-3zM1106 727h3v1h-3zM1324 727h1v1h-1zM214 728h1v1h-1zM309 728h1v1h-1zM451 728h1v1h-1zM540 728h2v1h-2zM887 728h1v1h-1zM1045 728h2v1h-2zM1109 728h4v1h-4zM1323 728h1v1h-1zM215 729h2v1h-2zM308 729h1v1h-1zM452 729h2v1h-2zM539 729h1v1h-1zM888 729h1v1h-1zM1043 729h2v1h-2zM1113 729h4v1h-4zM1234 729h13v1h-13zM1322 729h1v1h-1zM217 730h1v1h-1zM307 730h1v1h-1zM454 730h2v1h-2zM537 730h2v1h-2zM888 730h1v1h-1zM1041 730h2v1h-2zM1117 730h4v1h-4zM1231 730h3v1h-3zM1247 730h8v1h-8zM1321 730h1v1h-1zM218 731h1v1h-1zM305 731h2v1h-2zM456 731h2v1h-2zM535 731h2v1h-2zM889 731h1v1h-1zM1040 731h1v1h-1zM1121 731h6v1h-6zM1229 731h2v1h-2zM1255 731h6v1h-6zM1320 731h1v1h-1zM219 732h1v1h-1zM304 732h1v1h-1zM458 732h3v1h-3zM534 732h1v1h-1zM890 732h1v1h-1zM1039 732h1v1h-1zM1127 732h8v1h-8zM1226 732h3v1h-3zM1261 732h2v1h-2zM1319 732h1v1h-1zM220 733h1v1h-1zM303 733h1v1h-1zM461 733h2v1h-2zM532 733h2v1h-2zM890 733h1v1h-1zM1037 733h2v1h-2zM1135 733h16v1h-16zM1223 733h3v1h-3zM1263 733h3v1h-3zM1318 733h1v1h-1zM221 734h2v1h-2zM301 734h2v1h-2zM463 734h3v1h-3zM530 734h2v1h-2zM891 734h1v1h-1zM1036 734h1v1h-1zM1151 734h32v1h-32zM1221 734h2v1h-2zM1266 734h3v1h-3zM1317 734h1v1h-1zM223 735h1v1h-1zM300 735h1v1h-1zM466 735h3v1h-3zM527 735h3v1h-3zM892 735h1v1h-1zM1035 735h1v1h-1zM1183 735h8v1h-8zM1217 735h4v1h-4zM1269 735h2v1h-2zM1316 735h1v1h-1zM224 736h1v1h-1zM299 736h1v1h-1zM469 736h4v1h-4zM525 736h2v1h-2zM893 736h1v1h-1zM1033 736h2v1h-2zM1191 736h8v1h-8zM1213 736h4v1h-4zM1271 736h3v1h-3zM1315 736h1v1h-1zM225 737h2v1h-2zM298 737h1v1h-1zM473 737h6v1h-6zM522 737h3v1h-3zM893 737h1v1h-1zM1032 737h1v1h-1zM1199 737h14v1h-14zM1274 737h3v1h-3zM1313 737h2v1h-2zM227 738h1v1h-1zM297 738h1v1h-1zM479 738h8v1h-8zM519 738h3v1h-3zM894 738h1v1h-1zM1031 738h1v1h-1zM1277 738h2v1h-2zM1311 738h2v1h-2zM228 739h2v1h-2zM295 739h2v1h-2zM487 739h8v1h-8zM517 739h2v1h-2zM895 739h1v1h-1zM1029 739h2v1h-2zM1279 739h3v1h-3zM1310 739h1v1h-1zM230 740h2v1h-2zM294 740h1v1h-1zM495 740h8v1h-8zM511 740h6v1h-6zM896 740h1v1h-1zM1028 740h1v1h-1zM1282 740h3v1h-3zM1308 740h2v1h-2zM232 741h2v1h-2zM293 741h1v1h-1zM503 741h8v1h-8zM897 741h1v1h-1zM1027 741h1v1h-1zM1285 741h4v1h-4zM1303 741h5v1h-5zM234 742h2v1h-2zM292 742h1v1h-1zM897 742h1v1h-1zM1026 742h1v1h-1zM1289 742h14v1h-14zM236 743h2v1h-2zM290 743h2v1h-2zM898 743h1v1h-1zM1025 743h1v1h-1zM238 744h2v1h-2zM288 744h2v1h-2zM899 744h1v1h-1zM1023 744h2v1h-2zM240 745h2v1h-2zM286 745h2v1h-2zM900 745h1v1h-1zM1022 745h1v1h-1zM242 746h3v1h-3zM284 746h2v1h-2zM901 746h1v1h-1zM1021 746h1v1h-1zM245 747h2v1h-2zM282 747h2v1h-2zM901 747h1v1h-1zM1020 747h1v1h-1zM247 748h3v1h-3zM280 748h2v1h-2zM902 748h1v1h-1zM1019 748h1v1h-1zM250 749h3v1h-3zM278 749h2v1h-2zM903 749h1v1h-1zM1018 749h1v1h-1zM253 750h4v1h-4zM276 750h2v1h-2zM904 750h1v1h-1zM1017 750h1v1h-1zM257 751h6v1h-6zM271 751h5v1h-5zM905 751h1v1h-1zM1016 751h1v1h-1zM263 752h8v1h-8zM905 752h1v1h-1zM1015 752h1v1h-1zM906 753h1v1h-1zM1014 753h1v1h-1zM907 754h1v1h-1zM1013 754h1v1h-1zM908 755h1v1h-1zM1012 755h1v1h-1zM909 756h1v1h-1zM1011 756h1v1h-1zM910 757h1v1h-1zM1010 757h1v1h-1zM911 758h2v1h-2zM1009 758h1v1h-1zM913 759h1v1h-1zM1008 759h1v1h-1zM914 760h1v1h-1zM1007 760h1v1h-1zM915 761h1v1h-1zM1007 761h1v1h-1zM916 762h1v1h-1zM1006 762h1v1h-1zM917 763h1v1h-1zM1005 763h1v1h-1zM918 764h1v1h-1zM1004 764h1v1h-1zM919 765h1v1h-1zM1003 765h1v1h-1zM920 766h1v1h-1zM1002 766h1v1h-1zM921 767h1v1h-1zM1001 767h1v1h-1zM922 768h1v1h-1zM1000 768h1v1h-1zM923 769h1v1h-1zM999 769h1v1h-1zM924 770h1v1h-1zM999 770h1v1h-1zM925 771h1v1h-1zM998 771h1v1h-1zM926 772h1v1h-1zM997 772h1v1h-1zM927 773h2v1h-2zM996 773h1v1h-1zM929 774h1v1h-1zM995 774h1v1h-1zM930 775h1v1h-1zM994 775h1v1h-1zM931 776h1v1h-1zM993 776h1v1h-1zM932 777h1v1h-1zM991 777h2v1h-2zM933 778h1v1h-1zM990 778h1v1h-1zM934 779h1v1h-1zM989 779h1v1h-1zM935 780h2v1h-2zM988 780h1v1h-1zM937 781h1v1h-1zM987 781h1v1h-1zM938 782h1v1h-1zM985 782h2v1h-2zM939 783h1v1h-1zM983 783h2v1h-2zM940 784h1v1h-1zM982 784h1v1h-1zM941 785h2v1h-2zM980 785h2v1h-2zM943 786h1v1h-1zM978 786h2v1h-2zM944 787h1v1h-1zM976 787h2v1h-2zM945 788h2v1h-2zM974 788h2v1h-2zM947 789h2v1h-2zM972 789h2v1h-2zM949 790h2v1h-2zM969 790h3v1h-3zM951 791h3v1h-3zM965 791h4v1h-4zM954 792h11v1h-11z" fill="#000"/>
</g>
<rect x="2" y="553" width="1515" height="1" fill="#000"/>
<rect x="2" y="553" width="1" height="274" fill="#000"/>
<rect x="2" y="826" width="1515" height="1" fill="#000"/>
<rect x="1516" y="553" width="1" height="274" fill="#000"/>
<rect x="1517" y="555" width="1" height="1" fill="#000"/>
<rect x="1517" y="825" width="1" height="1" fill="#000"/>
<rect x="1517" y="754" width="2" height="1" fill="#000"/>
<rect x="3" y="827" width="1" height="3" fill="#000"/>
<rect x="99" y="827" width="1" height="3" fill="#000"/>
<rect x="195" y="827" width="1" height="3" fill="#000"/>
<rect x="291" y="827" width="1" height="3" fill="#000"/>
<rect x="387" y="827" width="1" height="3" fill="#000"/>
<rect x="483" y="827" width="1" height="3" fill="#000"/>
<rect x="579" y="827" width="1" height="3" fill="#000"/>
<rect x="675" y="827" width="1" height="3" fill="#000"/>
<rect x="771" y="827" width="1" height="3" fill="#000"/>
<rect x="867" y="827" width="1" height="3" fill="#000"/>
<rect x="963" y="827" width="1" height="3" fill="#000"/>
<rect x="1059" y="827" width="1" height="3" fill="#000"/>
<rect x="1155" y="827" width="1" height="3" fill="#000"/>
<rect x="1251" y="827" width="1" height="3" fill="#000"/>
<rect x="1347" y="827" width="1" height="3" fill="#000"/>
<rect x="1443" y="827" width="1" height="3" fill="#000"/>
<text x="21.10" y="17" textLength="38.00" lengthAdjust="spacingAndGlyphs">WT,H4</text>
<text x="67.30" y="17" textLength="32.55" lengthAdjust="spacingAndGlyphs">52.17</text>
<text x="103.13" y="17" textLength="31.60" lengthAdjust="spacingAndGlyphs">52.21</text>
<text x="139.50" y="17" textLength="32.44" lengthAdjust="spacingAndGlyphs">52.07</text>
<text x="175.30" y="17" textLength="32.44" lengthAdjust="spacingAndGlyphs">52.12</text>
<text x="6.56" y="569" textLength="85.04" lengthAdjust="spacingAndGlyphs">MACD(12,26,9)</text>
<text x="96.70" y="569" textLength="31.22" lengthAdjust="spacingAndGlyphs">0.697</text>
<text x="132.50" y="569" textLength="31.63" lengthAdjust="spacingAndGlyphs">0.742</text>
<text x="170.89" y="569" textLength="47.83" lengthAdjust="spacingAndGlyphs">-&gt;MA(1)</text>
<text x="223.30" y="569" textLength="31.73" lengthAdjust="spacingAndGlyphs">0.697</text>
<text x="1522.19" y="35" textLength="32.97" lengthAdjust="spacingAndGlyphs">52.55</text>
<text x="1522.19" y="85" textLength="32.97" lengthAdjust="spacingAndGlyphs">51.70</text>
<text x="1522.19" y="135" textLength="32.97" lengthAdjust="spacingAndGlyphs">50.85</text>
<text x="1522.19" y="185" textLength="32.97" lengthAdjust="spacingAndGlyphs">50.00</text>
<text x="1523.20" y="235" textLength="31.94" lengthAdjust="spacingAndGlyphs">49.15</text>
<text x="1523.20" y="285" textLength="31.94" lengthAdjust="spacingAndGlyphs">48.30</text>
<text x="1523.20" y="335" textLength="31.94" lengthAdjust="spacingAndGlyphs">47.45</text>
<text x="1523.20" y="385" textLength="31.94" lengthAdjust="spacingAndGlyphs">46.60</text>
<text x="1523.20" y="435" textLength="31.94" lengthAdjust="spacingAndGlyphs">45.75</text>
<text x="1523.20" y="485" textLength="31.94" lengthAdjust="spacingAndGlyphs">44.90</text>
<text x="1523.20" y="535" textLength="31.94" lengthAdjust="spacingAndGlyphs">44.05</text>
<text x="1522.39" y="60" textLength="32.97" lengthAdjust="spacingAndGlyphs" style="fill:#fff">52.12</text>
<text x="1522.39" y="98" textLength="32.97" lengthAdjust="spacingAndGlyphs" style="fill:#fff">51.49</text>
<text x="1523.40" y="215" textLength="31.94" lengthAdjust="spacingAndGlyphs" style="fill:#fff">49.50</text>
<text x="1519.30" y="567" textLength="25.21" lengthAdjust="spacingAndGlyphs">1.07</text>
<text x="1520.30" y="759" textLength="24.20" lengthAdjust="spacingAndGlyphs">0.00</text>
<text x="1519.34" y="823" textLength="35.54" lengthAdjust="spacingAndGlyphs">-0.386</text>
<text x="1.33" y="842" textLength="71.17" lengthAdjust="spacingAndGlyphs">25 Nov 2020</text>
<text x="97.33" y="842" textLength="75.41" lengthAdjust="spacingAndGlyphs">27 Nov 20:00</text>
<text x="193.43" y="842" textLength="68.08" lengthAdjust="spacingAndGlyphs">1 Dec 20:00</text>
<text x="289.33" y="842" textLength="68.08" lengthAdjust="spacingAndGlyphs">3 Dec 20:00</text>
<text x="385.23" y="842" textLength="68.08" lengthAdjust="spacingAndGlyphs">7 Dec 20:00</text>
<text x="481.13" y="842" textLength="68.08" lengthAdjust="spacingAndGlyphs">9 Dec 20:00</text>
<text x="577.72" y="842" textLength="74.85" lengthAdjust="spacingAndGlyphs">11 Dec 20:00</text>
<text x="673.63" y="842" textLength="74.80" lengthAdjust="spacingAndGlyphs">15 Dec 20:00</text>
<text x="769.53" y="842" textLength="74.80" lengthAdjust="spacingAndGlyphs">17 Dec 20:00</text>
<text x="865.43" y="842" textLength="74.80" lengthAdjust="spacingAndGlyphs">21 Dec 20:00</text>
<text x="961.53" y="842" textLength="75.21" lengthAdjust="spacingAndGlyphs">23 Dec 20:00</text>
<text x="1057.43" y="842" textLength="75.21" lengthAdjust="spacingAndGlyphs">28 Dec 20:00</text>
<text x="1153.33" y="842" textLength="75.21" lengthAdjust="spacingAndGlyphs">30 Dec 20:00</text>
<text x="1250.20" y="842" textLength="63.96" lengthAdjust="spacingAndGlyphs">4 Jan 20:00</text>
<text x="1345.14" y="842" textLength="64.91" lengthAdjust="spacingAndGlyphs">6 Jan 20:00</text>
<text x="1441.04" y="842" textLength="64.91" lengthAdjust="spacingAndGlyphs">8 Jan 20:00</text>
</svg></body></html>
